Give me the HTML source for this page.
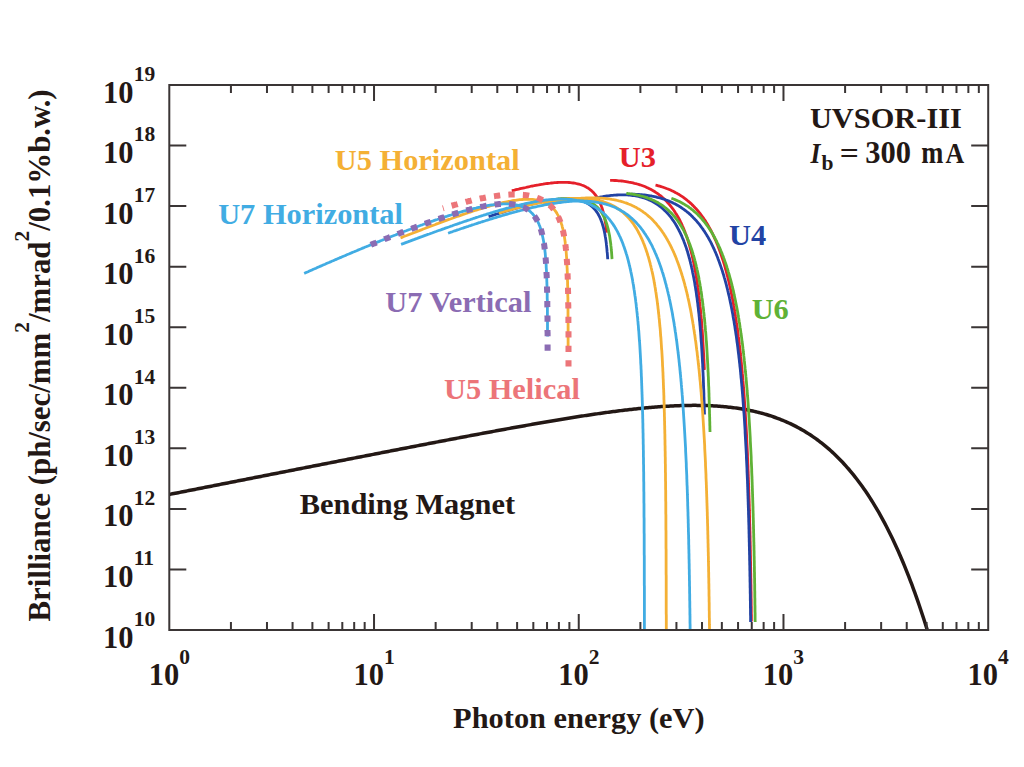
<!DOCTYPE html>
<html><head><meta charset="utf-8"><style>
html,body{margin:0;padding:0;background:#fff;width:1024px;height:767px;overflow:hidden;position:relative}
</style></head><body>
<svg width="1024" height="767" viewBox="0 0 1024 767" style="position:absolute;left:0;top:0">
<path d="M169.30,494.43 L170.80,494.14 L172.30,493.84 L173.80,493.54 L175.30,493.25 L176.80,492.95 L178.30,492.66 L179.80,492.36 L181.30,492.07 L182.80,491.77 L184.30,491.48 L185.80,491.18 L187.30,490.88 L188.80,490.59 L190.30,490.29 L191.80,490.00 L193.30,489.70 L194.80,489.41 L196.30,489.11 L197.80,488.82 L199.30,488.52 L200.80,488.22 L202.30,487.93 L203.80,487.63 L205.30,487.34 L206.80,487.04 L208.30,486.75 L209.80,486.45 L211.30,486.16 L212.80,485.86 L214.30,485.57 L215.80,485.27 L217.30,484.97 L218.80,484.68 L220.30,484.38 L221.80,484.09 L223.30,483.79 L224.80,483.50 L226.30,483.20 L227.80,482.91 L229.30,482.61 L230.80,482.32 L232.30,482.02 L233.80,481.73 L235.30,481.43 L236.80,481.13 L238.30,480.84 L239.80,480.54 L241.30,480.25 L242.80,479.95 L244.30,479.66 L245.80,479.36 L247.30,479.07 L248.80,478.77 L250.30,478.48 L251.80,478.18 L253.30,477.89 L254.80,477.59 L256.30,477.30 L257.80,477.00 L259.30,476.71 L260.80,476.41 L262.30,476.12 L263.80,475.82 L265.30,475.53 L266.80,475.23 L268.30,474.94 L269.80,474.64 L271.30,474.34 L272.80,474.05 L274.30,473.75 L275.80,473.46 L277.30,473.16 L278.80,472.87 L280.30,472.57 L281.80,472.28 L283.30,471.99 L284.80,471.69 L286.30,471.40 L287.80,471.10 L289.30,470.81 L290.80,470.51 L292.30,470.22 L293.80,469.92 L295.30,469.63 L296.80,469.33 L298.30,469.04 L299.80,468.74 L301.30,468.45 L302.80,468.15 L304.30,467.86 L305.80,467.56 L307.30,467.27 L308.80,466.97 L310.30,466.68 L311.80,466.39 L313.30,466.09 L314.80,465.80 L316.30,465.50 L317.80,465.21 L319.30,464.91 L320.80,464.62 L322.30,464.33 L323.80,464.03 L325.30,463.74 L326.80,463.44 L328.30,463.15 L329.80,462.85 L331.30,462.56 L332.80,462.27 L334.30,461.97 L335.80,461.68 L337.30,461.38 L338.80,461.09 L340.30,460.80 L341.80,460.50 L343.30,460.21 L344.80,459.92 L346.30,459.62 L347.80,459.33 L349.30,459.04 L350.80,458.74 L352.30,458.45 L353.80,458.15 L355.30,457.86 L356.80,457.57 L358.30,457.28 L359.80,456.98 L361.30,456.69 L362.80,456.40 L364.30,456.10 L365.80,455.81 L367.30,455.52 L368.80,455.22 L370.30,454.93 L371.80,454.64 L373.30,454.35 L374.80,454.05 L376.30,453.76 L377.80,453.47 L379.30,453.18 L380.80,452.88 L382.30,452.59 L383.80,452.30 L385.30,452.01 L386.80,451.72 L388.30,451.42 L389.80,451.13 L391.30,450.84 L392.80,450.55 L394.30,450.26 L395.80,449.97 L397.30,449.68 L398.80,449.38 L400.30,449.09 L401.80,448.80 L403.30,448.51 L404.80,448.22 L406.30,447.93 L407.80,447.64 L409.30,447.35 L410.80,447.06 L412.30,446.77 L413.80,446.48 L415.30,446.19 L416.80,445.90 L418.30,445.61 L419.80,445.32 L421.30,445.03 L422.80,444.74 L424.30,444.45 L425.80,444.16 L427.30,443.87 L428.80,443.59 L430.30,443.30 L431.80,443.01 L433.30,442.72 L434.80,442.43 L436.30,442.15 L437.80,441.86 L439.30,441.57 L440.80,441.28 L442.30,441.00 L443.80,440.71 L445.30,440.42 L446.80,440.14 L448.30,439.85 L449.80,439.56 L451.30,439.28 L452.80,438.99 L454.30,438.71 L455.80,438.42 L457.30,438.14 L458.80,437.85 L460.30,437.57 L461.80,437.28 L463.30,437.00 L464.80,436.72 L466.30,436.43 L467.80,436.15 L469.30,435.87 L470.80,435.58 L472.30,435.30 L473.80,435.02 L475.30,434.74 L476.80,434.46 L478.30,434.17 L479.80,433.89 L481.30,433.61 L482.80,433.33 L484.30,433.05 L485.80,432.77 L487.30,432.49 L488.80,432.22 L490.30,431.94 L491.80,431.66 L493.30,431.38 L494.80,431.10 L496.30,430.83 L497.80,430.55 L499.30,430.28 L500.80,430.00 L502.30,429.73 L503.80,429.45 L505.30,429.18 L506.80,428.90 L508.30,428.63 L509.80,428.36 L511.30,428.08 L512.80,427.81 L514.30,427.54 L515.80,427.27 L517.30,427.00 L518.80,426.73 L520.30,426.46 L521.80,426.19 L523.30,425.93 L524.80,425.66 L526.30,425.39 L527.80,425.13 L529.30,424.86 L530.80,424.60 L532.30,424.33 L533.80,424.07 L535.30,423.81 L536.80,423.54 L538.30,423.28 L539.80,423.02 L541.30,422.76 L542.80,422.50 L544.30,422.24 L545.80,421.99 L547.30,421.73 L548.80,421.48 L550.30,421.22 L551.80,420.97 L553.30,420.71 L554.80,420.46 L556.30,420.21 L557.80,419.96 L559.30,419.71 L560.80,419.46 L562.30,419.21 L563.80,418.97 L565.30,418.72 L566.80,418.48 L568.30,418.24 L569.80,417.99 L571.30,417.75 L572.80,417.51 L574.30,417.28 L575.80,417.04 L577.30,416.80 L578.80,416.57 L580.30,416.33 L581.80,416.10 L583.30,415.87 L584.80,415.64 L586.30,415.41 L587.80,415.19 L589.30,414.96 L590.80,414.74 L592.30,414.52 L593.80,414.30 L595.30,414.08 L596.80,413.86 L598.30,413.64 L599.80,413.43 L601.30,413.22 L602.80,413.01 L604.30,412.80 L605.80,412.59 L607.30,412.39 L608.80,412.18 L610.30,411.98 L611.80,411.78 L613.30,411.58 L614.80,411.39 L616.30,411.20 L617.80,411.00 L619.30,410.82 L620.80,410.63 L622.30,410.44 L623.80,410.26 L625.30,410.08 L626.80,409.91 L628.30,409.73 L629.80,409.56 L631.30,409.39 L632.80,409.22 L634.30,409.06 L635.80,408.89 L637.30,408.74 L638.80,408.58 L640.30,408.43 L641.80,408.27 L643.30,408.13 L644.80,407.98 L646.30,407.84 L647.80,407.70 L649.30,407.57 L650.80,407.44 L652.30,407.31 L653.80,407.18 L655.30,407.06 L656.80,406.94 L658.30,406.83 L659.80,406.72 L661.30,406.61 L662.80,406.51 L664.30,406.41 L665.80,406.31 L667.30,406.22 L668.80,406.13 L670.30,406.05 L671.80,405.97 L673.30,405.90 L674.80,405.83 L676.30,405.76 L677.80,405.70 L679.30,405.65 L680.80,405.60 L682.30,405.55 L683.80,405.51 L685.30,405.47 L686.80,405.44 L688.30,405.42 L689.80,405.39 L691.30,405.38 L692.80,405.37 L694.30,405.37 L695.80,405.37 L697.30,405.38 L698.80,405.39 L700.30,405.41 L701.80,405.44 L703.30,405.47 L704.80,405.51 L706.30,405.56 L707.80,405.61 L709.30,405.67 L710.80,405.74 L712.30,405.81 L713.80,405.89 L715.30,405.98 L716.80,406.08 L718.30,406.18 L719.80,406.29 L721.30,406.41 L722.80,406.54 L724.30,406.68 L725.80,406.82 L727.30,406.98 L728.80,407.14 L730.30,407.31 L731.80,407.49 L733.30,407.68 L734.80,407.88 L736.30,408.08 L737.80,408.30 L739.30,408.53 L740.80,408.77 L742.30,409.01 L743.80,409.27 L745.30,409.54 L746.80,409.82 L748.30,410.11 L749.80,410.42 L751.30,410.73 L752.80,411.06 L754.30,411.39 L755.80,411.74 L757.30,412.11 L758.80,412.48 L760.30,412.87 L761.80,413.27 L763.30,413.68 L764.80,414.11 L766.30,414.55 L767.80,415.00 L769.30,415.47 L770.80,415.96 L772.30,416.46 L773.80,416.97 L775.30,417.50 L776.80,418.04 L778.30,418.60 L779.80,419.18 L781.30,419.77 L782.80,420.38 L784.30,421.01 L785.80,421.65 L787.30,422.31 L788.80,422.99 L790.30,423.69 L791.80,424.41 L793.30,425.14 L794.80,425.90 L796.30,426.67 L797.80,427.47 L799.30,428.28 L800.80,429.12 L802.30,429.97 L803.80,430.85 L805.30,431.75 L806.80,432.67 L808.30,433.61 L809.80,434.58 L811.30,435.57 L812.80,436.59 L814.30,437.63 L815.80,438.69 L817.30,439.78 L818.80,440.89 L820.30,442.03 L821.80,443.20 L823.30,444.39 L824.80,445.61 L826.30,446.86 L827.80,448.13 L829.30,449.44 L830.80,450.77 L832.30,452.14 L833.80,453.53 L835.30,454.96 L836.80,456.42 L838.30,457.91 L839.80,459.43 L841.30,460.98 L842.80,462.57 L844.30,464.19 L845.80,465.85 L847.30,467.55 L848.80,469.27 L850.30,471.04 L851.80,472.84 L853.30,474.69 L854.80,476.57 L856.30,478.49 L857.80,480.45 L859.30,482.45 L860.80,484.49 L862.30,486.57 L863.80,488.70 L865.30,490.87 L866.80,493.08 L868.30,495.34 L869.80,497.65 L871.30,500.00 L872.80,502.40 L874.30,504.85 L875.80,507.35 L877.30,509.89 L878.80,512.49 L880.30,515.14 L881.80,517.85 L883.30,520.60 L884.80,523.41 L886.30,526.28 L887.80,529.20 L889.30,532.18 L890.80,535.22 L892.30,538.32 L893.80,541.48 L895.30,544.70 L896.80,547.98 L898.30,551.33 L899.80,554.74 L901.30,558.22 L902.80,561.76 L904.30,565.37 L905.80,569.05 L907.30,572.80 L908.80,576.63 L910.30,580.52 L911.80,584.49 L913.30,588.54 L914.80,592.66 L916.30,596.86 L917.80,601.14 L919.30,605.50 L920.80,609.94 L922.30,614.46 L923.80,619.07 L925.30,623.77 L926.80,628.55 L927.24,630.00" fill="none" stroke="#231815" stroke-width="3.5" stroke-linejoin="round"/>
<path d="M511.8,190.8 L513.2,190.4 L514.5,190.1 L515.9,189.7 L517.3,189.4 L518.7,189.1 L520.1,188.7 L521.5,188.4 L522.9,188.1 L524.3,187.8 L525.7,187.5 L527.2,187.1 L528.6,186.8 L530.0,186.5 L531.4,186.2 L532.9,186.0 L534.3,185.7 L535.7,185.4 L537.2,185.1 L538.6,184.9 L540.1,184.6 L541.5,184.4 L543.0,184.2 L544.4,183.9 L545.9,183.7 L547.3,183.5 L548.8,183.3 L550.2,183.2 L551.7,183.0 L553.1,182.9 L554.6,182.7 L556.0,182.6 L557.5,182.5 L558.9,182.4 L560.4,182.4 L561.8,182.3 L563.2,182.3 L564.6,182.3 L566.1,182.4 L567.5,182.4 L569.0,182.5 L570.4,182.6 L571.9,182.8 L573.3,183.0 L574.7,183.2 L576.1,183.5 L577.5,183.8 L578.9,184.1 L580.3,184.5 L581.6,185.0 L583.0,185.5 L584.3,186.1 L585.6,186.7 L586.8,187.4 L588.1,188.1 L589.2,188.9 L590.4,189.8 L591.5,190.7 L592.6,191.7 L593.6,192.7 L594.5,193.8 L595.5,195.0 L596.3,196.1 L597.1,197.3 L597.9,198.6 L598.6,199.8 L599.2,201.1 L599.9,202.4 L600.4,203.7 L601.0,205.1 L601.5,206.5 L602.0,207.8 L602.4,209.2 L602.8,210.6 L603.2,212.0 L603.6,213.4 L603.9,214.8 L604.3,216.4 L604.6,217.8 L604.8,219.3 L605.1,220.7 L605.3,222.1 L605.6,223.5 L605.8,224.9 L606.0,226.3 L606.1,227.7 L606.3,229.1 L606.5,230.5 L606.6,231.9 L606.7,232.6" fill="none" stroke="#e5202a" stroke-width="2.8" stroke-linejoin="round" />
<path d="M610.1,180.3 L611.5,180.3 L612.9,180.4 L614.4,180.5 L615.8,180.5 L617.3,180.6 L618.7,180.8 L620.2,180.9 L621.6,181.0 L623.0,181.2 L624.4,181.4 L625.9,181.6 L627.3,181.8 L628.7,182.1 L630.1,182.3 L631.6,182.6 L633.0,182.9 L634.4,183.3 L635.8,183.6 L637.2,184.0 L638.6,184.4 L639.9,184.8 L641.3,185.3 L642.7,185.8 L644.1,186.3 L645.4,186.8 L646.7,187.4 L648.0,188.0 L649.4,188.7 L650.6,189.3 L651.9,190.0 L653.2,190.7 L654.5,191.5 L655.7,192.3 L656.9,193.1 L658.1,193.9 L659.2,194.8 L660.4,195.7 L661.5,196.6 L662.6,197.6 L663.7,198.5 L664.8,199.5 L665.8,200.6 L666.8,201.6 L667.8,202.7 L668.8,203.8 L669.7,204.9 L670.6,206.0 L671.5,207.2 L672.4,208.3 L673.3,209.5 L674.1,210.7 L674.9,211.9 L675.7,213.2 L676.5,214.4 L677.3,215.7 L678.0,216.9 L678.7,218.2 L679.4,219.5 L680.1,220.9 L680.7,222.2 L681.4,223.5 L682.0,224.9 L682.6,226.3 L683.2,227.6 L683.7,228.9 L684.3,230.3 L684.9,231.7 L685.4,233.2 L685.9,234.5 L686.4,235.9 L686.9,237.3 L687.4,238.8 L687.9,240.3 L688.3,241.6 L688.7,243.0 L689.2,244.5 L689.6,245.9 L690.0,247.4 L690.4,248.9 L690.8,250.3 L691.2,251.7 L691.5,253.2 L691.9,254.6 L692.2,256.1 L692.6,257.6 L692.9,259.2 L693.3,260.7 L693.6,262.2 L693.9,263.6 L694.2,265.0 L694.5,266.5 L694.7,268.0 L695.0,269.6 L695.3,271.1 L695.6,272.7 L695.9,274.3 L696.1,275.8 L696.4,277.2 L696.6,278.6 L696.8,280.1 L697.0,281.6 L697.3,283.1 L697.5,284.7 L697.7,286.3 L697.9,287.9 L698.2,289.5 L698.4,291.2 L698.6,292.8 L698.8,294.3 L698.9,295.7 L699.1,297.2 L699.3,298.6 L699.5,300.1 L699.6,301.7 L699.8,303.2 L700.0,304.8 L700.1,306.4 L700.3,308.0 L700.5,309.6 L700.6,311.3 L700.8,313.0 L700.9,314.7 L701.1,316.4 L701.2,317.8 L701.3,319.3 L701.5,320.7 L701.6,322.2 L701.7,323.7 L701.8,325.2 L701.9,326.7 L702.0,328.2 L702.2,329.8 L702.3,331.4 L702.4,333.0 L702.5,334.6 L702.6,336.2 L702.7,337.9 L702.8,339.6 L702.9,341.3 L703.0,343.0 L703.1,344.8 L703.2,346.6 L703.3,348.4 L703.4,350.2 L703.5,352.1 L703.6,353.5 L703.7,354.9 L703.8,356.3 L703.8,357.7 L703.9,359.2 L704.0,360.6 L704.0,362.0 L704.1,363.4 L704.2,364.8 L704.2,366.3 L704.3,367.7 L704.3,369.1 L704.4,370.0" fill="none" stroke="#e5202a" stroke-width="2.8" stroke-linejoin="round" />
<path d="M655.5,185.1 L656.9,185.4 L658.3,185.8 L659.7,186.2 L661.0,186.6 L662.4,187.0 L663.8,187.5 L665.2,188.0 L666.5,188.5 L667.9,189.0 L669.2,189.5 L670.5,190.1 L671.8,190.7 L673.1,191.3 L674.5,192.0 L675.7,192.7 L677.0,193.3 L678.2,194.1 L679.5,194.8 L680.7,195.6 L681.9,196.4 L683.1,197.2 L684.3,198.1 L685.4,198.9 L686.6,199.8 L687.7,200.8 L688.8,201.7 L689.9,202.6 L691.0,203.6 L692.0,204.6 L693.1,205.6 L694.1,206.7 L695.1,207.8 L696.1,208.8 L697.1,209.9 L698.0,211.0 L698.9,212.1 L699.8,213.2 L700.7,214.4 L701.6,215.6 L702.5,216.8 L703.3,217.9 L704.2,219.2 L705.0,220.4 L705.8,221.6 L706.5,222.9 L707.3,224.1 L708.1,225.4 L708.8,226.7 L709.5,227.9 L710.2,229.2 L710.9,230.5 L711.6,231.9 L712.3,233.2 L712.9,234.5 L713.5,235.8 L714.2,237.2 L714.8,238.6 L715.4,239.9 L716.0,241.2 L716.5,242.5 L717.1,243.9 L717.7,245.3 L718.2,246.8 L718.8,248.2 L719.3,249.6 L719.8,250.9 L720.3,252.3 L720.8,253.8 L721.3,255.2 L721.8,256.7 L722.3,258.2 L722.7,259.5 L723.2,260.9 L723.6,262.3 L724.1,263.8 L724.5,265.2 L724.9,266.7 L725.3,268.2 L725.8,269.7 L726.2,271.3 L726.6,272.7 L726.9,274.1 L727.3,275.5 L727.7,276.9 L728.0,278.4 L728.4,279.9 L728.8,281.4 L729.1,282.9 L729.5,284.5 L729.8,286.1 L730.2,287.7 L730.5,289.1 L730.8,290.5 L731.1,291.9 L731.4,293.4 L731.7,294.8 L732.0,296.3 L732.3,297.8 L732.6,299.3 L732.9,300.9 L733.2,302.5 L733.5,304.0 L733.7,305.7 L734.0,307.3 L734.3,308.9 L734.6,310.6 L734.8,312.0 L735.1,313.4 L735.3,314.9 L735.5,316.3 L735.8,317.8 L736.0,319.3 L736.2,320.8 L736.4,322.3 L736.7,323.9 L736.9,325.5 L737.1,327.0 L737.3,328.6 L737.6,330.2 L737.8,331.9 L738.0,333.5 L738.2,335.2 L738.4,336.9 L738.7,338.6 L738.9,340.3 L739.1,342.1 L739.3,343.5 L739.4,344.9 L739.6,346.4 L739.8,347.8 L739.9,349.3 L740.1,350.8 L740.3,352.3 L740.4,353.8 L740.6,355.3 L740.7,356.9 L740.9,358.4 L741.1,360.0 L741.2,361.6 L741.4,363.2 L741.5,364.8 L741.7,366.5 L741.9,368.1 L742.0,369.8 L742.2,371.5 L742.3,373.2 L742.5,374.9 L742.6,376.6 L742.8,378.4 L742.9,380.2 L743.1,382.0 L743.2,383.8 L743.4,385.6 L743.5,387.5 L743.7,389.3 L743.8,390.7 L743.9,392.2 L744.0,393.6 L744.1,395.1 L744.2,396.5 L744.3,398.0 L744.4,399.5 L744.5,401.0 L744.6,402.5 L744.7,404.0 L744.8,405.5 L744.9,407.1 L745.0,408.6 L745.1,410.2 L745.2,411.8 L745.3,413.4 L745.4,415.0 L745.5,416.6 L745.6,418.3 L745.7,419.9 L745.8,421.6 L745.9,423.3 L746.0,425.0 L746.1,426.7 L746.2,428.4 L746.3,430.1 L746.4,431.9 L746.5,433.7 L746.6,435.5 L746.7,437.3 L746.7,439.1 L746.8,440.9 L746.9,442.8 L747.0,444.6 L747.1,446.5 L747.2,448.4 L747.3,450.4 L747.4,452.3 L747.5,454.2 L747.5,456.2 L747.6,458.2 L747.7,460.2 L747.8,462.3 L747.9,464.3 L748.0,466.4 L748.0,468.5 L748.1,470.6 L748.2,472.0 L748.2,473.5 L748.3,474.9 L748.3,476.4 L748.4,477.8 L748.4,479.3 L748.5,480.8 L748.5,482.3 L748.6,483.8 L748.6,485.3 L748.7,486.8 L748.7,488.3 L748.8,489.9 L748.8,491.4 L748.9,493.0 L748.9,494.6 L749.0,496.1 L749.0,497.6 L749.1,499.0 L749.1,500.4 L749.2,501.9 L749.2,503.3 L749.3,504.7 L749.3,506.2 L749.3,507.6 L749.4,509.0 L749.4,510.4 L749.5,511.9 L749.5,513.3 L749.5,514.7 L749.6,516.2 L749.6,517.6 L749.6,519.0 L749.7,520.5 L749.7,521.9 L749.7,523.3 L749.8,524.7 L749.8,526.2 L749.9,527.6 L749.9,529.0 L749.9,530.5 L750.0,531.9 L750.0,533.3 L750.0,534.8 L750.1,536.2 L750.1,537.6 L750.1,539.1 L750.1,540.5 L750.2,541.9 L750.2,543.4 L750.2,544.8 L750.3,546.2 L750.3,547.7 L750.3,549.1 L750.4,550.6 L750.4,552.0 L750.4,553.4 L750.4,554.8 L750.5,556.3 L750.5,557.7 L750.5,559.1 L750.5,560.6 L750.6,562.0 L750.6,563.5 L750.6,564.9 L750.6,566.3 L750.7,567.7 L750.7,569.2 L750.7,570.6 L750.7,572.0 L750.8,573.5 L750.8,574.9 L750.8,576.3 L750.8,577.8 L750.9,579.2 L750.9,580.7 L750.9,582.1 L750.9,583.5 L751.0,585.0 L751.0,586.4 L751.0,587.8 L751.0,589.3 L751.0,590.7 L751.1,592.2 L751.1,593.6 L751.1,595.0 L751.1,596.4 L751.1,597.9 L751.2,599.3 L751.2,600.8 L751.2,602.2 L751.2,603.6 L751.2,605.1 L751.3,606.5 L751.3,607.9 L751.3,609.4 L751.3,610.8 L751.3,612.3 L751.3,613.7 L751.4,615.1 L751.4,616.6 L751.4,618.0 L751.4,619.5 L751.4,620.9 L751.4,621.5" fill="none" stroke="#e5202a" stroke-width="2.8" stroke-linejoin="round" />
<path d="M488.6,216.6 L490.0,216.2 L491.4,215.8 L492.7,215.3 L494.1,214.9 L495.5,214.4 L496.9,214.0 L498.2,213.6 L499.6,213.1 L501.0,212.7 L502.4,212.3 L503.8,211.9 L505.1,211.4 L506.5,211.0 L508.0,210.6 L509.3,210.2 L510.7,209.8 L512.0,209.4 L513.4,209.0 L514.8,208.6 L516.2,208.2 L517.6,207.8 L519.0,207.4 L520.4,207.0 L521.8,206.6 L523.2,206.3 L524.6,205.9 L526.0,205.5 L527.4,205.1 L528.8,204.8 L530.3,204.4 L531.7,204.1 L533.1,203.7 L534.5,203.4 L535.9,203.1 L537.3,202.8 L538.7,202.5 L540.1,202.2 L541.4,201.9 L542.8,201.6 L544.2,201.3 L545.6,201.1 L547.1,200.8 L548.5,200.6 L550.0,200.3 L551.4,200.1 L552.9,199.9 L554.3,199.7 L555.8,199.5 L557.2,199.4 L558.7,199.2 L560.1,199.1 L561.5,199.0 L563.0,198.9 L564.4,198.9 L565.8,198.9 L567.3,198.9 L568.7,198.9 L570.2,198.9 L571.6,199.0 L573.1,199.2 L574.5,199.3 L575.9,199.5 L577.3,199.8 L578.7,200.1 L580.1,200.4 L581.5,200.8 L582.9,201.3 L584.3,201.8 L585.6,202.4 L586.9,203.1 L588.2,203.8 L589.4,204.6 L590.5,205.4 L591.7,206.3 L592.7,207.3 L593.7,208.3 L594.7,209.4 L595.6,210.4 L596.5,211.6 L597.3,212.8 L598.1,214.0 L598.8,215.4 L599.5,216.7 L600.1,218.0 L600.7,219.3 L601.2,220.7 L601.7,222.0 L602.2,223.4 L602.6,224.8 L603.0,226.2 L603.4,227.6 L603.8,229.0 L604.1,230.5 L604.4,231.8 L604.7,233.3 L605.0,234.8 L605.2,236.2 L605.5,237.6 L605.7,239.0 L605.9,240.4 L606.1,241.8 L606.3,243.2 L606.4,244.7 L606.6,246.1 L606.7,247.5 L606.9,248.9 L607.0,250.3 L607.1,251.7 L607.3,253.1 L607.4,254.5 L607.5,256.0 L607.6,257.4 L607.7,258.8 L607.7,259.2" fill="none" stroke="#2243a4" stroke-width="2.8" stroke-linejoin="round" />
<path d="M585.8,200.6 L587.2,200.2 L588.6,199.9 L590.0,199.5 L591.4,199.1 L592.8,198.8 L594.2,198.4 L595.6,198.1 L597.0,197.8 L598.5,197.5 L599.9,197.2 L601.3,196.9 L602.7,196.7 L604.1,196.4 L605.5,196.2 L606.9,196.0 L608.3,195.8 L609.8,195.6 L611.2,195.4 L612.6,195.3 L614.1,195.2 L615.5,195.1 L617.0,195.0 L618.5,194.9 L619.9,194.8 L621.4,194.8 L622.8,194.8 L624.2,194.8 L625.6,194.9 L627.1,194.9 L628.5,195.0 L629.9,195.1 L631.4,195.3 L632.8,195.5 L634.3,195.7 L635.7,195.9 L637.1,196.2 L638.5,196.5 L639.9,196.8 L641.3,197.2 L642.7,197.6 L644.1,198.0 L645.5,198.5 L646.8,199.0 L648.1,199.5 L649.5,200.1 L650.8,200.7 L652.1,201.3 L653.3,202.0 L654.6,202.7 L655.9,203.5 L657.1,204.3 L658.3,205.1 L659.4,206.0 L660.6,206.8 L661.7,207.7 L662.8,208.7 L663.9,209.7 L664.9,210.7 L666.0,211.7 L667.0,212.7 L668.0,213.8 L668.9,214.9 L669.9,216.1 L670.8,217.2 L671.7,218.4 L672.5,219.6 L673.4,220.8 L674.2,222.0 L675.0,223.2 L675.8,224.5 L676.5,225.8 L677.2,227.0 L677.9,228.3 L678.6,229.6 L679.3,231.0 L680.0,232.3 L680.6,233.6 L681.2,235.0 L681.9,236.4 L682.4,237.7 L683.0,239.1 L683.6,240.5 L684.1,241.9 L684.6,243.2 L685.1,244.6 L685.6,246.0 L686.1,247.4 L686.6,248.9 L687.0,250.3 L687.5,251.6 L687.9,253.1 L688.3,254.5 L688.7,256.0 L689.1,257.5 L689.6,259.0 L689.9,260.4 L690.3,261.8 L690.6,263.3 L691.0,264.7 L691.4,266.3 L691.7,267.8 L692.1,269.4 L692.4,270.7 L692.6,272.2 L692.9,273.6 L693.2,275.1 L693.5,276.6 L693.8,278.1 L694.1,279.7 L694.4,281.2 L694.7,282.8 L694.9,284.2 L695.1,285.7 L695.4,287.1 L695.6,288.6 L695.8,290.1 L696.1,291.6 L696.3,293.1 L696.5,294.7 L696.7,296.3 L697.0,297.9 L697.2,299.5 L697.4,301.2 L697.6,302.6 L697.8,304.0 L697.9,305.5 L698.1,306.9 L698.3,308.4 L698.4,309.9 L698.6,311.5 L698.8,313.0 L699.0,314.6 L699.1,316.2 L699.3,317.8 L699.4,319.5 L699.6,321.1 L699.8,322.8 L699.9,324.6 L700.1,326.3 L700.2,327.7 L700.3,329.2 L700.4,330.6 L700.6,332.1 L700.7,333.6 L700.8,335.1 L700.9,336.6 L701.0,338.1 L701.1,339.7 L701.2,341.3 L701.4,342.9 L701.5,344.5 L701.6,346.2 L701.7,347.9 L701.8,349.6 L701.9,351.3 L702.0,353.0 L702.1,354.8 L702.2,356.6 L702.3,358.4 L702.4,360.2 L702.5,362.1 L702.6,363.5 L702.7,364.9 L702.7,366.4 L702.8,367.8 L702.9,369.2 L702.9,370.6 L703.0,372.1 L703.1,373.5 L703.1,374.9 L703.2,376.3 L703.3,377.7 L703.3,379.2 L703.4,380.6 L703.4,382.0 L703.5,383.4 L703.5,384.9 L703.6,386.3 L703.6,387.7 L703.7,389.1 L703.8,390.6 L703.8,392.0 L703.9,393.4 L703.9,394.8 L703.9,396.3 L704.0,397.7 L704.0,399.1 L704.1,400.5 L704.1,402.0 L704.2,403.4 L704.2,404.8 L704.3,406.3 L704.3,407.7 L704.3,409.1 L704.4,410.5 L704.4,412.0 L704.5,413.4 L704.5,414.4" fill="none" stroke="#2243a4" stroke-width="2.8" stroke-linejoin="round" />
<path d="M631.5,194.2 L633.0,194.2 L634.4,194.2 L635.9,194.3 L637.3,194.4 L638.8,194.5 L640.2,194.6 L641.6,194.7 L643.0,194.8 L644.5,195.0 L645.9,195.2 L647.4,195.4 L648.8,195.6 L650.2,195.8 L651.6,196.0 L653.0,196.3 L654.4,196.6 L655.9,196.9 L657.2,197.3 L658.6,197.6 L660.0,198.0 L661.4,198.4 L662.8,198.8 L664.2,199.3 L665.5,199.8 L666.9,200.3 L668.2,200.8 L669.6,201.4 L670.9,201.9 L672.2,202.5 L673.5,203.2 L674.8,203.8 L676.1,204.5 L677.4,205.2 L678.6,205.9 L679.9,206.7 L681.1,207.5 L682.3,208.3 L683.5,209.1 L684.6,210.0 L685.8,210.8 L686.9,211.8 L688.1,212.7 L689.2,213.6 L690.3,214.6 L691.3,215.6 L692.4,216.6 L693.4,217.7 L694.4,218.7 L695.4,219.8 L696.4,220.8 L697.3,222.0 L698.3,223.1 L699.2,224.2 L700.1,225.4 L701.0,226.6 L701.8,227.7 L702.7,228.9 L703.5,230.1 L704.4,231.3 L705.1,232.5 L705.9,233.8 L706.7,235.0 L707.4,236.3 L708.2,237.5 L708.9,238.8 L709.6,240.1 L710.3,241.4 L711.0,242.7 L711.6,244.0 L712.3,245.3 L712.9,246.6 L713.5,248.0 L714.2,249.4 L714.8,250.8 L715.4,252.1 L716.0,253.5 L716.5,254.9 L717.1,256.3 L717.7,257.7 L718.2,259.2 L718.7,260.5 L719.2,261.9 L719.7,263.3 L720.2,264.7 L720.7,266.1 L721.2,267.6 L721.7,269.1 L722.2,270.5 L722.6,271.9 L723.0,273.3 L723.5,274.7 L723.9,276.2 L724.3,277.6 L724.8,279.1 L725.2,280.7 L725.6,282.2 L726.0,283.6 L726.4,285.0 L726.7,286.4 L727.1,287.9 L727.5,289.4 L727.8,290.8 L728.2,292.4 L728.5,293.9 L728.9,295.5 L729.3,297.0 L729.6,298.6 L729.9,300.0 L730.2,301.5 L730.5,302.9 L730.8,304.3 L731.1,305.8 L731.4,307.3 L731.7,308.8 L732.0,310.3 L732.3,311.9 L732.6,313.5 L732.9,315.0 L733.1,316.7 L733.4,318.3 L733.7,319.9 L734.0,321.3 L734.2,322.7 L734.4,324.2 L734.7,325.6 L734.9,327.1 L735.1,328.6 L735.3,330.0 L735.6,331.6 L735.8,333.1 L736.0,334.6 L736.3,336.2 L736.5,337.8 L736.7,339.4 L736.9,341.0 L737.1,342.6 L737.4,344.3 L737.6,346.0 L737.8,347.6 L738.0,349.4 L738.2,351.1 L738.4,352.8 L738.6,354.3 L738.8,355.7 L738.9,357.1 L739.1,358.6 L739.3,360.1 L739.4,361.6 L739.6,363.1 L739.8,364.6 L739.9,366.1 L740.1,367.7 L740.3,369.2 L740.4,370.8 L740.6,372.4 L740.7,374.0 L740.9,375.6 L741.0,377.3 L741.2,378.9 L741.4,380.6 L741.5,382.3 L741.7,384.0 L741.8,385.7 L742.0,387.4 L742.1,389.2 L742.3,391.0 L742.4,392.8 L742.6,394.6 L742.7,396.4 L742.9,398.3 L743.0,400.2 L743.1,401.6 L743.2,403.0 L743.3,404.4 L743.4,405.9 L743.5,407.4 L743.6,408.8 L743.7,410.3 L743.8,411.8 L744.0,413.3 L744.1,414.8 L744.2,416.4 L744.3,417.9 L744.4,419.5 L744.5,421.1 L744.6,422.7 L744.7,424.3 L744.8,425.9 L744.9,427.5 L745.0,429.1 L745.1,430.8 L745.1,432.5 L745.2,434.2 L745.3,435.9 L745.4,437.6 L745.5,439.3 L745.6,441.0 L745.7,442.8 L745.8,444.6 L745.9,446.4 L746.0,448.2 L746.1,450.0 L746.2,451.8 L746.3,453.7 L746.4,455.6 L746.4,457.5 L746.5,459.4 L746.6,461.3 L746.7,463.2 L746.8,465.2 L746.9,467.2 L747.0,469.2 L747.0,471.2 L747.1,473.3 L747.2,475.3 L747.3,477.4 L747.4,479.5 L747.5,481.6 L747.5,483.0 L747.6,484.5 L747.6,485.9 L747.7,487.4 L747.7,488.8 L747.8,490.3 L747.8,491.8 L747.9,493.3 L747.9,494.8 L748.0,496.3 L748.0,497.8 L748.1,499.4 L748.1,500.9 L748.2,502.5 L748.2,504.1 L748.3,505.6 L748.3,507.1 L748.4,508.5 L748.4,509.9 L748.5,511.3 L748.5,512.8 L748.5,514.2 L748.6,515.6 L748.6,517.1 L748.7,518.5 L748.7,519.9 L748.7,521.3 L748.8,522.8 L748.8,524.2 L748.9,525.7 L748.9,527.1 L748.9,528.5 L749.0,529.9 L749.0,531.4 L749.0,532.8 L749.1,534.3 L749.1,535.7 L749.1,537.1 L749.2,538.5 L749.2,540.0 L749.2,541.4 L749.3,542.8 L749.3,544.3 L749.3,545.7 L749.4,547.1 L749.4,548.6 L749.4,550.0 L749.5,551.4 L749.5,552.9 L749.5,554.3 L749.6,555.7 L749.6,557.2 L749.6,558.6 L749.6,560.0 L749.7,561.5 L749.7,562.9 L749.7,564.3 L749.8,565.8 L749.8,567.2 L749.8,568.6 L749.8,570.1 L749.9,571.5 L749.9,572.9 L749.9,574.4 L749.9,575.8 L750.0,577.2 L750.0,578.7 L750.0,580.1 L750.0,581.6 L750.1,583.0 L750.1,584.4 L750.1,585.9 L750.1,587.3 L750.2,588.7 L750.2,590.2 L750.2,591.6 L750.2,593.0 L750.3,594.5 L750.3,595.9 L750.3,597.4 L750.3,598.8 L750.3,600.2 L750.4,601.7 L750.4,603.1 L750.4,604.6 L750.4,606.0 L750.4,607.4 L750.5,608.9 L750.5,610.3 L750.5,611.7 L750.5,613.2 L750.5,614.6 L750.6,616.1 L750.6,617.5 L750.6,618.9 L750.6,620.4 L750.6,621.9 L750.6,621.9" fill="none" stroke="#2243a4" stroke-width="2.8" stroke-linejoin="round" />
<path d="M528.4,204.9 L529.8,204.6 L531.2,204.2 L532.6,203.9 L534.1,203.5 L535.5,203.2 L536.9,202.9 L538.4,202.5 L539.8,202.2 L541.2,201.9 L542.7,201.6 L544.1,201.3 L545.6,201.0 L547.0,200.8 L548.5,200.5 L549.9,200.3 L551.4,200.0 L552.8,199.8 L554.3,199.6 L555.7,199.4 L557.2,199.2 L558.6,199.0 L560.1,198.8 L561.5,198.7 L563.0,198.6 L564.4,198.5 L565.8,198.4 L567.3,198.3 L568.7,198.3 L570.1,198.3 L571.6,198.3 L573.0,198.3 L574.5,198.4 L575.9,198.5 L577.4,198.7 L578.8,198.9 L580.2,199.1 L581.6,199.3 L583.0,199.6 L584.4,200.0 L585.8,200.4 L587.2,200.9 L588.6,201.5 L589.9,202.0 L591.1,202.7 L592.4,203.4 L593.6,204.2 L594.8,205.0 L595.9,206.0 L596.9,206.9 L598.0,207.9 L599.0,209.0 L599.9,210.1 L600.7,211.3 L601.6,212.5 L602.3,213.7 L603.0,215.0 L603.7,216.3 L604.3,217.6 L604.9,218.9 L605.5,220.3 L606.0,221.7 L606.5,223.1 L606.9,224.5 L607.3,225.9 L607.7,227.3 L608.1,228.7 L608.4,230.1 L608.7,231.5 L609.0,233.0 L609.3,234.5 L609.6,235.9 L609.8,237.3 L610.0,238.7 L610.2,240.1 L610.4,241.5 L610.6,242.9 L610.8,244.3 L610.9,245.7 L611.1,247.1 L611.2,248.5 L611.3,250.0 L611.5,251.4 L611.6,252.8 L611.7,254.2 L611.8,255.6 L611.9,257.0 L612.0,258.4 L612.1,259.2" fill="none" stroke="#5fb236" stroke-width="2.8" stroke-linejoin="round" />
<path d="M626.3,193.3 L627.7,193.5 L629.1,193.6 L630.5,193.8 L632.0,194.0 L633.4,194.3 L634.8,194.5 L636.3,194.8 L637.7,195.1 L639.1,195.4 L640.5,195.8 L641.9,196.1 L643.2,196.5 L644.6,196.9 L646.0,197.4 L647.4,197.9 L648.7,198.3 L650.1,198.9 L651.4,199.4 L652.7,200.0 L654.1,200.6 L655.3,201.3 L656.6,201.9 L657.9,202.6 L659.1,203.4 L660.3,204.1 L661.5,204.9 L662.7,205.7 L663.9,206.6 L665.1,207.5 L666.2,208.4 L667.3,209.3 L668.4,210.3 L669.4,211.3 L670.5,212.3 L671.5,213.3 L672.5,214.4 L673.5,215.5 L674.4,216.5 L675.3,217.6 L676.2,218.8 L677.1,220.0 L678.0,221.2 L678.8,222.4 L679.6,223.6 L680.4,224.9 L681.2,226.1 L681.9,227.4 L682.7,228.6 L683.4,229.9 L684.1,231.2 L684.7,232.6 L685.4,233.9 L686.0,235.2 L686.6,236.6 L687.3,238.0 L687.8,239.3 L688.4,240.7 L688.9,242.1 L689.5,243.5 L690.0,244.8 L690.5,246.2 L691.0,247.6 L691.5,249.0 L692.0,250.5 L692.4,251.8 L692.8,253.2 L693.2,254.6 L693.7,256.0 L694.1,257.5 L694.5,259.0 L694.9,260.6 L695.3,261.9 L695.6,263.4 L696.0,264.8 L696.3,266.3 L696.7,267.8 L697.0,269.3 L697.4,270.9 L697.7,272.3 L698.0,273.7 L698.3,275.2 L698.6,276.6 L698.9,278.1 L699.1,279.7 L699.4,281.2 L699.7,282.8 L700.0,284.4 L700.2,285.8 L700.5,287.2 L700.7,288.7 L700.9,290.2 L701.2,291.7 L701.4,293.2 L701.6,294.7 L701.8,296.3 L702.0,297.9 L702.3,299.5 L702.5,301.2 L702.7,302.8 L702.9,304.3 L703.0,305.7 L703.2,307.2 L703.4,308.6 L703.6,310.1 L703.7,311.7 L703.9,313.2 L704.1,314.8 L704.2,316.4 L704.4,318.0 L704.6,319.6 L704.7,321.3 L704.9,323.0 L705.0,324.7 L705.2,326.4 L705.3,327.8 L705.4,329.3 L705.5,330.7 L705.7,332.2 L705.8,333.7 L705.9,335.2 L706.0,336.7 L706.1,338.2 L706.2,339.8 L706.4,341.4 L706.5,343.0 L706.6,344.6 L706.7,346.2 L706.8,347.9 L706.9,349.6 L707.0,351.3 L707.1,353.1 L707.2,354.8 L707.3,356.6 L707.4,358.4 L707.5,360.3 L707.6,362.1 L707.7,363.6 L707.8,365.0 L707.8,366.4 L707.9,367.8 L708.0,369.2 L708.0,370.7 L708.1,372.1 L708.2,373.5 L708.2,374.9 L708.3,376.4 L708.4,377.8 L708.4,379.2 L708.5,380.6 L708.5,382.0 L708.6,383.5 L708.6,384.9 L708.7,386.3 L708.8,387.7 L708.8,389.2 L708.9,390.6 L708.9,392.0 L709.0,393.5 L709.0,394.9 L709.0,396.3 L709.1,397.7 L709.1,399.1 L709.2,400.6 L709.2,402.0 L709.3,403.4 L709.3,404.8 L709.4,406.3 L709.4,407.7 L709.4,409.1 L709.5,410.6 L709.5,412.0 L709.5,413.4 L709.6,414.8 L709.6,416.3 L709.7,417.7 L709.7,419.1 L709.7,420.5 L709.8,422.0 L709.8,423.4 L709.8,424.8 L709.9,426.3 L709.9,427.7 L709.9,429.1 L710.0,430.6 L710.0,432.0 L710.0,432.0" fill="none" stroke="#5fb236" stroke-width="2.8" stroke-linejoin="round" />
<path d="M671.4,198.3 L672.8,198.8 L674.1,199.3 L675.5,199.9 L676.8,200.4 L678.1,201.0 L679.4,201.6 L680.7,202.3 L682.0,203.0 L683.3,203.7 L684.5,204.4 L685.8,205.2 L687.0,205.9 L688.2,206.7 L689.4,207.6 L690.6,208.4 L691.7,209.3 L692.9,210.2 L693.9,211.1 L695.0,212.1 L696.1,213.0 L697.2,214.1 L698.2,215.1 L699.3,216.1 L700.3,217.2 L701.3,218.2 L702.2,219.3 L703.2,220.5 L704.1,221.6 L705.0,222.7 L705.9,223.9 L706.8,225.1 L707.6,226.2 L708.5,227.4 L709.3,228.7 L710.1,229.9 L710.9,231.1 L711.7,232.4 L712.5,233.7 L713.2,235.0 L713.9,236.3 L714.6,237.5 L715.3,238.9 L716.0,240.2 L716.7,241.5 L717.3,242.8 L718.0,244.1 L718.6,245.5 L719.2,246.8 L719.8,248.1 L720.4,249.5 L720.9,250.8 L721.5,252.2 L722.1,253.6 L722.6,255.0 L723.2,256.5 L723.7,257.9 L724.2,259.2 L724.7,260.6 L725.2,262.1 L725.7,263.5 L726.2,265.0 L726.7,266.5 L727.1,267.9 L727.6,269.3 L728.0,270.7 L728.4,272.1 L728.9,273.6 L729.3,275.1 L729.7,276.6 L730.1,278.1 L730.5,279.5 L730.9,280.9 L731.3,282.3 L731.6,283.7 L732.0,285.2 L732.3,286.7 L732.7,288.2 L733.1,289.7 L733.4,291.2 L733.8,292.8 L734.1,294.4 L734.4,295.8 L734.7,297.2 L735.0,298.6 L735.3,300.1 L735.6,301.5 L735.9,303.0 L736.2,304.5 L736.5,306.0 L736.8,307.6 L737.1,309.1 L737.4,310.7 L737.7,312.3 L738.0,313.9 L738.2,315.6 L738.5,317.2 L738.8,318.6 L739.0,320.1 L739.2,321.5 L739.5,323.0 L739.7,324.4 L739.9,325.9 L740.1,327.4 L740.4,329.0 L740.6,330.5 L740.8,332.1 L741.0,333.6 L741.3,335.2 L741.5,336.8 L741.7,338.5 L741.9,340.1 L742.1,341.8 L742.4,343.5 L742.6,345.2 L742.8,346.9 L743.0,348.7 L743.2,350.1 L743.3,351.5 L743.5,353.0 L743.7,354.4 L743.8,355.9 L744.0,357.4 L744.2,358.9 L744.3,360.4 L744.5,361.9 L744.6,363.5 L744.8,365.1 L745.0,366.6 L745.1,368.2 L745.3,369.8 L745.4,371.5 L745.6,373.1 L745.8,374.8 L745.9,376.4 L746.1,378.1 L746.2,379.8 L746.4,381.6 L746.5,383.3 L746.7,385.1 L746.8,386.8 L747.0,388.6 L747.1,390.5 L747.3,392.3 L747.4,394.1 L747.5,396.0 L747.7,397.4 L747.8,398.9 L747.9,400.3 L748.0,401.8 L748.1,403.2 L748.2,404.7 L748.3,406.2 L748.4,407.7 L748.5,409.2 L748.6,410.7 L748.7,412.3 L748.8,413.8 L748.9,415.4 L749.0,417.0 L749.1,418.6 L749.2,420.2 L749.3,421.8 L749.4,423.4 L749.5,425.1 L749.6,426.7 L749.7,428.4 L749.8,430.1 L749.9,431.8 L750.0,433.5 L750.1,435.3 L750.2,437.0 L750.3,438.8 L750.3,440.6 L750.4,442.4 L750.5,444.2 L750.6,446.0 L750.7,447.9 L750.8,449.7 L750.9,451.6 L751.0,453.5 L751.1,455.4 L751.2,457.4 L751.2,459.3 L751.3,461.3 L751.4,463.3 L751.5,465.3 L751.6,467.3 L751.7,469.4 L751.7,471.4 L751.8,473.5 L751.9,475.6 L752.0,477.1 L752.0,478.5 L752.1,479.9 L752.1,481.4 L752.2,482.8 L752.2,484.3 L752.3,485.8 L752.3,487.3 L752.4,488.8 L752.4,490.3 L752.5,491.8 L752.5,493.3 L752.6,494.8 L752.6,496.4 L752.7,498.0 L752.7,499.5 L752.8,501.1 L752.8,502.5 L752.9,504.0 L752.9,505.4 L753.0,506.8 L753.0,508.2 L753.0,509.7 L753.1,511.1 L753.1,512.5 L753.2,514.0 L753.2,515.4 L753.2,516.8 L753.3,518.3 L753.3,519.7 L753.4,521.1 L753.4,522.6 L753.4,524.0 L753.5,525.4 L753.5,526.8 L753.5,528.3 L753.6,529.7 L753.6,531.1 L753.6,532.6 L753.7,534.0 L753.7,535.4 L753.7,536.9 L753.8,538.3 L753.8,539.7 L753.8,541.1 L753.9,542.6 L753.9,544.0 L753.9,545.4 L754.0,546.9 L754.0,548.3 L754.0,549.8 L754.1,551.2 L754.1,552.6 L754.1,554.0 L754.1,555.5 L754.2,556.9 L754.2,558.3 L754.2,559.8 L754.3,561.2 L754.3,562.7 L754.3,564.1 L754.3,565.5 L754.4,566.9 L754.4,568.4 L754.4,569.8 L754.4,571.3 L754.5,572.7 L754.5,574.1 L754.5,575.6 L754.5,577.0 L754.6,578.5 L754.6,579.9 L754.6,581.3 L754.6,582.8 L754.7,584.2 L754.7,585.7 L754.7,587.1 L754.7,588.5 L754.7,590.0 L754.8,591.4 L754.8,592.8 L754.8,594.3 L754.8,595.7 L754.8,597.1 L754.9,598.6 L754.9,600.1 L754.9,601.5 L754.9,602.9 L754.9,604.4 L755.0,605.8 L755.0,607.3 L755.0,608.7 L755.0,610.1 L755.0,611.5 L755.1,613.0 L755.1,614.4 L755.1,615.9 L755.1,617.3 L755.1,618.7 L755.1,620.2 L755.2,621.6 L755.2,621.9" fill="none" stroke="#5fb236" stroke-width="2.8" stroke-linejoin="round" />
<path d="M400.5,237.9 L401.9,237.4 L403.2,236.8 L404.5,236.3 L405.9,235.8 L407.2,235.3 L408.6,234.7 L409.9,234.2 L411.2,233.7 L412.6,233.2 L413.9,232.7 L415.2,232.2 L416.6,231.6 L417.9,231.1 L419.3,230.6 L420.6,230.1 L422.0,229.6 L423.3,229.0 L424.7,228.5 L426.0,228.0 L427.4,227.5 L428.7,227.0 L430.0,226.5 L431.4,226.0 L432.7,225.5 L434.1,225.0 L435.4,224.5 L436.8,223.9 L438.2,223.4 L439.5,222.9 L440.8,222.4 L442.2,221.9 L443.5,221.4 L444.9,220.9 L446.3,220.4 L447.6,219.9 L449.0,219.4 L450.3,219.0 L451.7,218.5 L453.0,218.0 L454.4,217.5 L455.7,217.0 L457.1,216.5 L458.5,216.1 L459.9,215.6 L461.2,215.1 L462.6,214.6 L464.0,214.2 L465.3,213.7 L466.7,213.2 L468.0,212.8 L469.4,212.3 L470.8,211.9 L472.1,211.4 L473.5,211.0 L474.9,210.5 L476.3,210.1 L477.7,209.6 L479.1,209.2 L480.5,208.8 L481.9,208.3 L483.3,207.9 L484.6,207.5 L486.0,207.1 L487.4,206.7 L488.7,206.3 L490.1,205.9 L491.5,205.5 L492.9,205.2 L494.2,204.8 L495.6,204.4 L497.0,204.1 L498.4,203.7 L499.8,203.4 L501.2,203.0 L502.5,202.7 L503.9,202.4 L505.3,202.1 L506.7,201.8 L508.1,201.5 L509.5,201.3 L511.0,201.0 L512.4,200.7 L513.9,200.5 L515.3,200.3 L516.7,200.1 L518.2,199.9 L519.6,199.7 L521.1,199.6 L522.5,199.5 L523.9,199.4 L525.3,199.3 L526.8,199.3 L528.2,199.3 L529.7,199.3 L531.1,199.4 L532.6,199.4 L534.0,199.6 L535.4,199.8 L536.8,200.0 L538.3,200.3 L539.7,200.6 L541.1,201.0 L542.4,201.4 L543.8,201.9 L545.1,202.5 L546.4,203.2 L547.7,203.9 L548.9,204.7 L550.1,205.5 L551.2,206.5 L552.2,207.4 L553.3,208.5 L554.2,209.5 L555.1,210.7 L556.0,211.9 L556.8,213.1 L557.5,214.4 L558.2,215.6 L558.8,216.9 L559.4,218.2 L560.0,219.6 L560.5,220.9 L561.0,222.3 L561.4,223.7 L561.9,225.1 L562.2,226.6 L562.6,228.0 L563.0,229.5 L563.3,231.0 L563.6,232.4 L563.9,233.9 L564.1,235.3 L564.4,236.7 L564.6,238.1 L564.8,239.5 L565.0,240.9 L565.2,242.3 L565.3,243.7 L565.5,245.1 L565.7,246.5 L565.8,248.0 L565.9,249.4 L566.1,250.8 L566.2,252.2 L566.3,253.6 L566.4,255.0 L566.5,256.4 L566.6,257.9 L566.7,259.3 L566.8,260.7 L566.8,262.1 L566.9,263.5 L567.0,264.9 L567.0,266.4 L567.1,267.8 L567.2,269.2 L567.2,270.6 L567.3,272.0 L567.3,273.5 L567.4,274.9 L567.4,276.3 L567.5,277.7 L567.5,279.1 L567.5,280.6 L567.6,282.0 L567.6,283.4 L567.6,284.8 L567.7,286.3 L567.7,287.7 L567.7,289.1 L567.7,290.5 L567.8,291.9 L567.8,293.4 L567.8,294.8 L567.8,296.2 L567.9,297.6 L567.9,299.1 L567.9,300.5 L567.9,301.9 L567.9,303.3 L567.9,304.8 L568.0,306.2 L568.0,307.6 L568.0,309.0 L568.0,310.5 L568.0,311.9 L568.0,313.3 L568.0,314.8 L568.0,316.2 L568.0,317.6 L568.0,319.0 L568.1,320.5 L568.1,321.9 L568.1,323.3 L568.1,324.8 L568.1,326.2 L568.1,327.7 L568.1,329.1 L568.1,330.5 L568.1,332.0 L568.1,333.4 L568.1,334.9 L568.1,336.3 L568.1,337.7 L568.1,339.2 L568.1,340.6 L568.1,342.0 L568.1,343.5 L568.1,344.9 L568.1,346.4 L568.2,347.8 L568.2,349.2 L568.2,350.7 L568.2,351.0" fill="none" stroke="#f4b035" stroke-width="2.8" stroke-linejoin="round" />
<path d="M498.7,213.1 L500.1,212.7 L501.5,212.3 L502.9,211.9 L504.3,211.5 L505.6,211.1 L507.0,210.7 L508.4,210.4 L509.8,210.0 L511.2,209.6 L512.6,209.2 L513.9,208.9 L515.3,208.5 L516.8,208.1 L518.2,207.8 L519.5,207.4 L520.9,207.1 L522.3,206.7 L523.7,206.4 L525.1,206.0 L526.6,205.7 L527.9,205.4 L529.3,205.0 L530.7,204.7 L532.1,204.4 L533.5,204.1 L534.9,203.8 L536.4,203.5 L537.8,203.2 L539.2,202.9 L540.6,202.6 L542.0,202.3 L543.4,202.1 L544.8,201.8 L546.3,201.5 L547.7,201.3 L549.1,201.0 L550.5,200.8 L551.9,200.6 L553.3,200.4 L554.8,200.1 L556.2,199.9 L557.6,199.7 L559.1,199.6 L560.5,199.4 L561.9,199.2 L563.4,199.1 L564.9,198.9 L566.3,198.8 L567.7,198.7 L569.1,198.6 L570.6,198.5 L572.0,198.4 L573.4,198.4 L574.9,198.3 L576.3,198.3 L577.8,198.3 L579.3,198.3 L580.7,198.3 L582.2,198.3 L583.6,198.4 L585.0,198.5 L586.5,198.6 L587.9,198.7 L589.3,198.8 L590.8,199.0 L592.2,199.2 L593.6,199.4 L595.1,199.7 L596.5,199.9 L597.9,200.2 L599.3,200.6 L600.7,200.9 L602.1,201.3 L603.5,201.7 L604.9,202.2 L606.3,202.7 L607.6,203.2 L608.9,203.7 L610.3,204.3 L611.6,204.9 L612.8,205.6 L614.1,206.3 L615.4,207.0 L616.6,207.8 L617.8,208.5 L619.0,209.3 L620.2,210.2 L621.3,211.1 L622.5,212.0 L623.6,212.9 L624.6,213.9 L625.7,214.9 L626.7,215.9 L627.7,217.0 L628.7,218.0 L629.7,219.2 L630.6,220.2 L631.5,221.4 L632.4,222.6 L633.3,223.7 L634.1,224.9 L634.9,226.2 L635.7,227.4 L636.5,228.6 L637.2,229.9 L637.9,231.2 L638.6,232.5 L639.3,233.8 L640.0,235.1 L640.6,236.4 L641.3,237.8 L641.9,239.1 L642.5,240.5 L643.1,241.9 L643.6,243.2 L644.2,244.6 L644.7,246.1 L645.2,247.4 L645.7,248.8 L646.2,250.2 L646.7,251.7 L647.2,253.1 L647.6,254.5 L648.0,255.9 L648.5,257.3 L648.9,258.8 L649.3,260.3 L649.7,261.8 L650.1,263.2 L650.4,264.6 L650.8,266.0 L651.1,267.5 L651.5,269.0 L651.8,270.5 L652.2,272.0 L652.5,273.4 L652.8,274.8 L653.1,276.3 L653.4,277.7 L653.7,279.2 L654.0,280.7 L654.2,282.3 L654.5,283.8 L654.8,285.5 L655.0,286.8 L655.3,288.3 L655.5,289.7 L655.7,291.2 L656.0,292.7 L656.2,294.2 L656.4,295.7 L656.6,297.3 L656.9,298.9 L657.1,300.5 L657.3,302.1 L657.5,303.8 L657.7,305.2 L657.9,306.6 L658.0,308.1 L658.2,309.5 L658.4,311.0 L658.5,312.5 L658.7,314.1 L658.9,315.6 L659.0,317.2 L659.2,318.8 L659.4,320.5 L659.5,322.1 L659.7,323.8 L659.8,325.5 L660.0,327.2 L660.2,329.0 L660.3,330.4 L660.4,331.9 L660.5,333.3 L660.6,334.8 L660.7,336.3 L660.9,337.8 L661.0,339.4 L661.1,340.9 L661.2,342.5 L661.3,344.1 L661.4,345.7 L661.5,347.4 L661.6,349.0 L661.8,350.7 L661.9,352.5 L662.0,354.2 L662.1,355.9 L662.2,357.7 L662.3,359.5 L662.4,361.4 L662.5,363.3 L662.5,364.7 L662.6,366.1 L662.7,367.5 L662.8,369.0 L662.8,370.4 L662.9,371.8 L663.0,373.2 L663.0,374.7 L663.1,376.1 L663.1,377.5 L663.2,378.9 L663.3,380.3 L663.3,381.8 L663.4,383.2 L663.4,384.6 L663.5,386.0 L663.5,387.5 L663.6,388.9 L663.7,390.3 L663.7,391.7 L663.8,393.2 L663.8,394.6 L663.9,396.0 L663.9,397.4 L663.9,398.9 L664.0,400.3 L664.0,401.7 L664.1,403.1 L664.1,404.6 L664.2,406.0 L664.2,407.4 L664.2,408.9 L664.3,410.3 L664.3,411.7 L664.4,413.1 L664.4,414.5 L664.4,416.0 L664.5,417.4 L664.5,418.8 L664.5,420.3 L664.6,421.7 L664.6,423.1 L664.6,424.5 L664.7,426.0 L664.7,427.4 L664.7,428.8 L664.8,430.3 L664.8,431.7 L664.8,433.1 L664.9,434.5 L664.9,436.0 L664.9,437.4 L664.9,438.8 L665.0,440.3 L665.0,441.7 L665.0,443.1 L665.0,444.6 L665.1,446.0 L665.1,447.4 L665.1,448.9 L665.1,450.3 L665.2,451.7 L665.2,453.1 L665.2,454.6 L665.2,456.0 L665.3,457.5 L665.3,458.9 L665.3,460.3 L665.3,461.7 L665.3,463.2 L665.4,464.6 L665.4,466.0 L665.4,467.5 L665.4,468.9 L665.4,470.4 L665.4,471.8 L665.5,473.2 L665.5,474.7 L665.5,476.1 L665.5,477.6 L665.5,479.0 L665.5,480.4 L665.6,481.9 L665.6,483.3 L665.6,484.8 L665.6,486.2 L665.6,487.6 L665.6,489.1 L665.7,490.5 L665.7,491.9 L665.7,493.4 L665.7,494.8 L665.7,496.2 L665.7,497.7 L665.7,499.1 L665.7,500.6 L665.8,502.0 L665.8,503.5 L665.8,504.9 L665.8,506.3 L665.8,507.7 L665.8,509.2 L665.8,510.6 L665.8,512.1 L665.8,513.5 L665.9,515.0 L665.9,516.4 L665.9,517.8 L665.9,519.3 L665.9,520.7 L665.9,522.1 L665.9,523.6 L665.9,525.0 L665.9,526.5 L665.9,527.9 L665.9,529.3 L666.0,530.8 L666.0,532.2 L666.0,533.7 L666.0,535.1 L666.0,536.6 L666.0,538.0 L666.0,539.5 L666.0,540.9 L666.0,542.4 L666.0,543.8 L666.0,545.3 L666.0,546.7 L666.0,548.2 L666.1,549.6 L666.1,551.1 L666.1,552.5 L666.1,554.0 L666.1,555.4 L666.1,556.9 L666.1,558.3 L666.1,559.8 L666.1,561.3 L666.1,562.7 L666.1,564.1 L666.1,565.6 L666.1,567.0 L666.1,568.5 L666.1,569.9 L666.1,571.3 L666.1,572.8 L666.1,574.2 L666.2,575.7 L666.2,577.2 L666.2,578.6 L666.2,580.0 L666.2,581.5 L666.2,582.9 L666.2,584.4 L666.2,585.9 L666.2,587.3 L666.2,588.7 L666.2,590.2 L666.2,591.6 L666.2,593.1 L666.2,594.6 L666.2,596.1 L666.2,597.5 L666.2,598.9 L666.2,600.4 L666.2,601.8 L666.2,603.3 L666.2,604.8 L666.2,606.3 L666.2,607.7 L666.2,609.2 L666.2,610.6 L666.2,612.1 L666.2,613.6 L666.3,615.1 L666.3,616.6 L666.3,618.0 L666.3,619.4 L666.3,620.9 L666.3,622.3 L666.3,623.8 L666.3,625.3 L666.3,626.8 L666.3,628.3 L666.3,629.5" fill="none" stroke="#f4b035" stroke-width="2.8" stroke-linejoin="round" />
<path d="M543.3,203.8 L544.7,203.6 L546.1,203.3 L547.5,203.0 L548.9,202.7 L550.4,202.4 L551.8,202.2 L553.2,201.9 L554.6,201.7 L556.0,201.4 L557.4,201.2 L558.9,200.9 L560.3,200.7 L561.7,200.5 L563.1,200.3 L564.5,200.1 L566.0,199.9 L567.4,199.7 L568.8,199.5 L570.2,199.3 L571.6,199.1 L573.1,199.0 L574.5,198.8 L576.0,198.7 L577.4,198.6 L578.8,198.4 L580.2,198.3 L581.7,198.2 L583.1,198.1 L584.6,198.1 L586.0,198.0 L587.5,197.9 L588.9,197.9 L590.3,197.9 L591.8,197.9 L593.2,197.9 L594.6,197.9 L596.1,197.9 L597.6,198.0 L599.0,198.0 L600.4,198.1 L601.8,198.2 L603.3,198.3 L604.7,198.4 L606.2,198.6 L607.6,198.8 L609.0,198.9 L610.4,199.1 L611.8,199.4 L613.3,199.6 L614.7,199.9 L616.1,200.2 L617.5,200.5 L618.9,200.9 L620.3,201.2 L621.7,201.6 L623.1,202.0 L624.4,202.5 L625.8,202.9 L627.1,203.4 L628.5,204.0 L629.9,204.5 L631.2,205.1 L632.5,205.7 L633.8,206.3 L635.1,207.0 L636.4,207.6 L637.6,208.4 L638.9,209.1 L640.1,209.8 L641.3,210.6 L642.5,211.4 L643.7,212.3 L644.9,213.1 L646.0,214.0 L647.2,215.0 L648.2,215.9 L649.3,216.8 L650.4,217.8 L651.5,218.8 L652.5,219.8 L653.5,220.9 L654.5,222.0 L655.5,223.0 L656.5,224.1 L657.4,225.3 L658.3,226.4 L659.2,227.5 L660.1,228.7 L661.0,229.9 L661.9,231.1 L662.7,232.3 L663.6,233.5 L664.3,234.7 L665.1,235.9 L665.9,237.2 L666.6,238.5 L667.4,239.8 L668.1,241.1 L668.8,242.3 L669.5,243.7 L670.2,245.0 L670.9,246.3 L671.5,247.6 L672.1,248.9 L672.8,250.3 L673.4,251.7 L674.0,253.0 L674.6,254.3 L675.1,255.7 L675.7,257.0 L676.3,258.5 L676.8,259.9 L677.3,261.2 L677.8,262.6 L678.3,263.9 L678.8,265.3 L679.3,266.8 L679.8,268.2 L680.3,269.7 L680.8,271.2 L681.3,272.6 L681.7,274.0 L682.1,275.4 L682.6,276.8 L683.0,278.3 L683.4,279.8 L683.9,281.3 L684.3,282.8 L684.7,284.2 L685.0,285.6 L685.4,287.0 L685.8,288.4 L686.1,289.9 L686.5,291.3 L686.9,292.8 L687.2,294.4 L687.6,295.9 L687.9,297.5 L688.3,299.1 L688.6,300.4 L688.9,301.8 L689.2,303.3 L689.5,304.7 L689.8,306.2 L690.1,307.6 L690.4,309.1 L690.7,310.6 L691.0,312.2 L691.3,313.7 L691.5,315.3 L691.8,316.9 L692.1,318.5 L692.4,320.2 L692.7,321.8 L692.9,323.2 L693.2,324.6 L693.4,326.1 L693.6,327.5 L693.8,329.0 L694.1,330.5 L694.3,332.0 L694.5,333.5 L694.8,335.0 L695.0,336.6 L695.2,338.2 L695.4,339.7 L695.7,341.4 L695.9,343.0 L696.1,344.6 L696.3,346.3 L696.5,348.0 L696.7,349.7 L697.0,351.4 L697.2,353.1 L697.3,354.6 L697.5,356.0 L697.7,357.4 L697.8,358.9 L698.0,360.3 L698.2,361.8 L698.3,363.3 L698.5,364.8 L698.7,366.3 L698.8,367.9 L699.0,369.4 L699.2,371.0 L699.3,372.6 L699.5,374.2 L699.6,375.8 L699.8,377.4 L699.9,379.1 L700.1,380.7 L700.3,382.4 L700.4,384.1 L700.6,385.8 L700.7,387.6 L700.9,389.3 L701.0,391.1 L701.2,392.9 L701.3,394.7 L701.5,396.5 L701.6,398.4 L701.7,400.2 L701.9,401.6 L702.0,403.0 L702.1,404.5 L702.2,405.9 L702.3,407.4 L702.4,408.9 L702.5,410.3 L702.6,411.8 L702.7,413.3 L702.8,414.8 L702.9,416.4 L703.0,417.9 L703.1,419.5 L703.2,421.0 L703.3,422.6 L703.4,424.2 L703.5,425.8 L703.6,427.4 L703.7,429.1 L703.8,430.7 L703.9,432.4 L704.0,434.1 L704.1,435.8 L704.2,437.5 L704.3,439.2 L704.4,440.9 L704.5,442.7 L704.6,444.4 L704.7,446.2 L704.7,448.0 L704.8,449.8 L704.9,451.7 L705.0,453.5 L705.1,455.4 L705.2,457.3 L705.3,459.2 L705.4,461.1 L705.5,463.0 L705.5,465.0 L705.6,467.0 L705.7,469.0 L705.8,471.0 L705.9,473.0 L706.0,475.1 L706.0,477.1 L706.1,479.2 L706.2,481.3 L706.3,482.7 L706.3,484.2 L706.4,485.6 L706.4,487.1 L706.5,488.5 L706.5,490.0 L706.6,491.5 L706.6,493.0 L706.7,494.5 L706.7,496.0 L706.8,497.5 L706.8,499.0 L706.9,500.6 L706.9,502.1 L707.0,503.7 L707.0,505.2 L707.1,506.8 L707.1,508.3 L707.2,509.7 L707.2,511.1 L707.3,512.5 L707.3,514.0 L707.3,515.4 L707.4,516.8 L707.4,518.3 L707.5,519.7 L707.5,521.1 L707.5,522.6 L707.6,524.0 L707.6,525.4 L707.7,526.9 L707.7,528.3 L707.7,529.7 L707.8,531.2 L707.8,532.6 L707.8,534.0 L707.9,535.4 L707.9,536.9 L707.9,538.3 L708.0,539.7 L708.0,541.2 L708.0,542.6 L708.1,544.0 L708.1,545.5 L708.1,546.9 L708.2,548.3 L708.2,549.7 L708.2,551.2 L708.3,552.6 L708.3,554.0 L708.3,555.5 L708.4,556.9 L708.4,558.3 L708.4,559.8 L708.4,561.2 L708.5,562.7 L708.5,564.1 L708.5,565.5 L708.6,567.0 L708.6,568.4 L708.6,569.8 L708.6,571.3 L708.7,572.7 L708.7,574.1 L708.7,575.6 L708.7,577.0 L708.8,578.4 L708.8,579.9 L708.8,581.3 L708.8,582.8 L708.9,584.2 L708.9,585.6 L708.9,587.1 L708.9,588.5 L709.0,590.0 L709.0,591.4 L709.0,592.8 L709.0,594.3 L709.0,595.7 L709.1,597.2 L709.1,598.6 L709.1,600.0 L709.1,601.5 L709.2,602.9 L709.2,604.4 L709.2,605.8 L709.2,607.2 L709.2,608.6 L709.2,610.1 L709.3,611.5 L709.3,613.0 L709.3,614.4 L709.3,615.8 L709.3,617.2 L709.4,618.7 L709.4,620.1 L709.4,621.6 L709.4,623.0 L709.4,624.4 L709.5,625.9 L709.5,627.3 L709.5,628.8 L709.5,629.5" fill="none" stroke="#f4b035" stroke-width="2.8" stroke-linejoin="round" />
<path d="M304.2,273.4 L305.5,272.8 L306.8,272.2 L308.1,271.7 L309.4,271.1 L310.7,270.5 L312.0,269.9 L313.3,269.3 L314.6,268.8 L316.0,268.2 L317.3,267.6 L318.6,267.0 L319.9,266.4 L321.2,265.9 L322.5,265.3 L323.8,264.7 L325.1,264.2 L326.4,263.6 L327.7,263.0 L329.0,262.5 L330.4,261.9 L331.7,261.3 L333.0,260.8 L334.3,260.2 L335.6,259.6 L336.9,259.1 L338.2,258.5 L339.5,257.9 L340.9,257.4 L342.2,256.8 L343.5,256.2 L344.8,255.7 L346.2,255.1 L347.5,254.5 L348.8,254.0 L350.1,253.4 L351.4,252.9 L352.8,252.3 L354.1,251.8 L355.4,251.2 L356.7,250.7 L358.0,250.1 L359.4,249.5 L360.7,249.0 L362.0,248.4 L363.4,247.9 L364.7,247.3 L366.0,246.8 L367.4,246.2 L368.7,245.7 L370.0,245.1 L371.3,244.6 L372.7,244.1 L374.0,243.5 L375.3,243.0 L376.7,242.4 L378.0,241.9 L379.3,241.4 L380.7,240.8 L382.0,240.3 L383.3,239.7 L384.7,239.2 L386.0,238.7 L387.3,238.1 L388.7,237.6 L390.1,237.1 L391.4,236.5 L392.7,236.0 L394.0,235.5 L395.4,235.0 L396.7,234.4 L398.1,233.9 L399.4,233.4 L400.8,232.9 L402.1,232.3 L403.4,231.8 L404.8,231.3 L406.2,230.8 L407.5,230.3 L408.8,229.8 L410.2,229.3 L411.5,228.8 L412.9,228.2 L414.2,227.7 L415.6,227.2 L417.0,226.7 L418.3,226.2 L419.6,225.7 L421.0,225.2 L422.3,224.8 L423.7,224.3 L425.0,223.8 L426.4,223.3 L427.8,222.8 L429.2,222.3 L430.5,221.8 L431.8,221.3 L433.2,220.9 L434.5,220.4 L435.9,219.9 L437.3,219.5 L438.7,219.0 L440.0,218.5 L441.4,218.1 L442.8,217.6 L444.2,217.1 L445.5,216.7 L446.9,216.3 L448.2,215.8 L449.6,215.4 L451.0,215.0 L452.3,214.5 L453.7,214.1 L455.1,213.7 L456.5,213.2 L457.9,212.8 L459.3,212.4 L460.7,212.0 L462.1,211.6 L463.5,211.2 L464.9,210.8 L466.4,210.4 L467.7,210.0 L469.1,209.7 L470.5,209.3 L471.8,209.0 L473.2,208.6 L474.6,208.3 L476.0,208.0 L477.4,207.6 L478.8,207.3 L480.1,207.0 L481.5,206.7 L482.9,206.4 L484.3,206.2 L485.7,205.9 L487.2,205.6 L488.6,205.4 L490.1,205.2 L491.5,205.0 L493.0,204.8 L494.4,204.6 L495.8,204.4 L497.3,204.3 L498.7,204.1 L500.2,204.0 L501.6,204.0 L503.0,203.9 L504.4,203.9 L505.9,203.9 L507.4,203.9 L508.8,204.0 L510.3,204.1 L511.7,204.2 L513.1,204.4 L514.5,204.6 L515.9,204.8 L517.3,205.1 L518.8,205.5 L520.2,205.9 L521.5,206.4 L522.9,207.0 L524.2,207.6 L525.5,208.2 L526.7,208.9 L527.9,209.8 L529.1,210.6 L530.2,211.5 L531.2,212.5 L532.3,213.5 L533.2,214.6 L534.1,215.7 L535.0,216.9 L535.8,218.2 L536.6,219.4 L537.3,220.7 L537.9,222.0 L538.6,223.3 L539.1,224.6 L539.7,226.0 L540.2,227.4 L540.6,228.8 L541.1,230.2 L541.5,231.6 L541.9,233.1 L542.2,234.5 L542.5,235.9 L542.8,237.3 L543.1,238.8 L543.4,240.3 L543.7,241.8 L543.9,243.2 L544.1,244.6 L544.3,246.0 L544.5,247.4 L544.7,248.8 L544.9,250.2 L545.0,251.6 L545.2,253.0 L545.3,254.4 L545.4,255.8 L545.5,257.3 L545.7,258.7 L545.8,260.1 L545.9,261.5 L546.0,262.9 L546.1,264.3 L546.2,265.7 L546.2,267.2 L546.3,268.6 L546.4,270.0 L546.5,271.4 L546.5,272.8 L546.6,274.2 L546.6,275.7 L546.7,277.1 L546.7,278.5 L546.8,279.9 L546.8,281.3 L546.9,282.7 L546.9,284.2 L547.0,285.6 L547.0,287.0 L547.0,288.4 L547.1,289.9 L547.1,291.3 L547.1,292.7 L547.2,294.1 L547.2,295.6 L547.2,297.0 L547.2,298.4 L547.3,299.8 L547.3,301.3 L547.3,302.7 L547.3,304.1 L547.3,305.6 L547.4,307.0 L547.4,308.4 L547.4,309.8 L547.4,311.3 L547.4,312.7 L547.4,314.1 L547.4,315.5 L547.5,317.0 L547.5,318.4 L547.5,319.8 L547.5,321.3 L547.5,322.7 L547.5,324.1 L547.5,325.5 L547.5,327.0 L547.5,328.4 L547.5,329.9 L547.5,331.3 L547.6,332.8 L547.6,334.2 L547.6,335.7 L547.6,336.6" fill="none" stroke="#41ace3" stroke-width="2.8" stroke-linejoin="round" />
<path d="M401.1,244.4 L402.4,243.9 L403.8,243.4 L405.1,242.9 L406.4,242.4 L407.8,241.9 L409.1,241.4 L410.5,240.9 L411.8,240.4 L413.1,239.9 L414.5,239.4 L415.8,238.9 L417.2,238.4 L418.5,237.9 L419.8,237.4 L421.2,236.9 L422.6,236.4 L423.9,235.9 L425.2,235.4 L426.6,234.9 L427.9,234.4 L429.3,234.0 L430.6,233.5 L432.0,233.0 L433.3,232.5 L434.6,232.0 L436.0,231.5 L437.3,231.0 L438.7,230.5 L440.0,230.1 L441.4,229.6 L442.7,229.1 L444.1,228.6 L445.4,228.1 L446.8,227.7 L448.1,227.2 L449.5,226.7 L450.8,226.2 L452.2,225.8 L453.5,225.3 L454.9,224.8 L456.3,224.3 L457.6,223.9 L459.0,223.4 L460.3,222.9 L461.7,222.5 L463.0,222.0 L464.4,221.5 L465.7,221.1 L467.1,220.6 L468.5,220.2 L469.9,219.7 L471.2,219.2 L472.6,218.8 L473.9,218.3 L475.3,217.9 L476.7,217.4 L478.0,217.0 L479.4,216.5 L480.8,216.1 L482.1,215.7 L483.5,215.2 L484.9,214.8 L486.3,214.4 L487.6,213.9 L489.0,213.5 L490.4,213.1 L491.8,212.7 L493.2,212.2 L494.5,211.8 L495.9,211.4 L497.3,211.0 L498.7,210.6 L500.0,210.2 L501.4,209.8 L502.9,209.4 L504.2,209.0 L505.6,208.6 L507.0,208.2 L508.4,207.9 L509.8,207.5 L511.2,207.1 L512.6,206.7 L514.0,206.4 L515.3,206.0 L516.7,205.7 L518.1,205.3 L519.5,205.0 L520.9,204.7 L522.4,204.3 L523.8,204.0 L525.2,203.7 L526.6,203.4 L528.0,203.1 L529.4,202.8 L530.8,202.5 L532.2,202.3 L533.6,202.0 L535.1,201.7 L536.5,201.5 L537.9,201.2 L539.4,201.0 L540.8,200.8 L542.2,200.6 L543.6,200.4 L545.0,200.2 L546.4,200.0 L547.9,199.9 L549.3,199.7 L550.7,199.6 L552.2,199.5 L553.6,199.3 L555.1,199.3 L556.5,199.2 L558.0,199.1 L559.5,199.1 L560.9,199.1 L562.3,199.1 L563.7,199.1 L565.2,199.1 L566.6,199.2 L568.0,199.3 L569.5,199.4 L570.9,199.5 L572.3,199.7 L573.8,199.9 L575.2,200.1 L576.7,200.4 L578.1,200.6 L579.5,200.9 L580.8,201.3 L582.2,201.6 L583.6,202.0 L585.0,202.5 L586.4,203.0 L587.7,203.5 L589.1,204.0 L590.4,204.6 L591.7,205.2 L593.0,205.9 L594.2,206.5 L595.5,207.3 L596.8,208.1 L598.0,208.8 L599.1,209.7 L600.3,210.6 L601.4,211.5 L602.6,212.4 L603.7,213.4 L604.7,214.4 L605.8,215.4 L606.7,216.4 L607.7,217.5 L608.7,218.6 L609.6,219.7 L610.5,220.8 L611.4,222.0 L612.2,223.2 L613.1,224.4 L613.9,225.6 L614.7,226.8 L615.4,228.1 L616.2,229.4 L616.9,230.6 L617.6,231.9 L618.3,233.3 L618.9,234.5 L619.5,235.8 L620.2,237.2 L620.8,238.6 L621.3,239.9 L621.9,241.2 L622.5,242.6 L623.0,244.0 L623.5,245.5 L624.0,246.8 L624.5,248.2 L625.0,249.7 L625.5,251.1 L625.9,252.5 L626.3,253.9 L626.8,255.3 L627.2,256.7 L627.6,258.2 L628.0,259.7 L628.4,261.1 L628.7,262.5 L629.1,263.9 L629.4,265.4 L629.8,266.8 L630.1,268.4 L630.5,269.9 L630.8,271.5 L631.1,272.9 L631.4,274.3 L631.7,275.8 L632.0,277.3 L632.3,278.8 L632.6,280.3 L632.8,281.9 L633.1,283.5 L633.4,284.9 L633.6,286.3 L633.8,287.8 L634.0,289.2 L634.3,290.7 L634.5,292.3 L634.7,293.8 L634.9,295.4 L635.2,297.0 L635.4,298.6 L635.6,300.2 L635.8,301.9 L636.0,303.3 L636.2,304.8 L636.3,306.2 L636.5,307.7 L636.7,309.2 L636.8,310.7 L637.0,312.3 L637.2,313.8 L637.3,315.4 L637.5,317.0 L637.7,318.7 L637.8,320.4 L638.0,322.0 L638.1,323.8 L638.3,325.5 L638.4,326.9 L638.5,328.4 L638.6,329.8 L638.8,331.3 L638.9,332.8 L639.0,334.3 L639.1,335.8 L639.2,337.4 L639.3,338.9 L639.4,340.5 L639.6,342.1 L639.7,343.8 L639.8,345.4 L639.9,347.1 L640.0,348.8 L640.1,350.5 L640.2,352.3 L640.3,354.0 L640.4,355.8 L640.5,357.7 L640.6,359.5 L640.7,360.9 L640.7,362.4 L640.8,363.8 L640.9,365.2 L641.0,366.6 L641.0,368.1 L641.1,369.5 L641.2,370.9 L641.2,372.3 L641.3,373.7 L641.3,375.2 L641.4,376.6 L641.5,378.0 L641.5,379.4 L641.6,380.9 L641.6,382.3 L641.7,383.7 L641.7,385.1 L641.8,386.5 L641.8,388.0 L641.9,389.4 L641.9,390.8 L642.0,392.3 L642.0,393.7 L642.1,395.1 L642.1,396.5 L642.2,398.0 L642.2,399.4 L642.3,400.8 L642.3,402.2 L642.4,403.7 L642.4,405.1 L642.4,406.5 L642.5,407.9 L642.5,409.4 L642.5,410.8 L642.6,412.2 L642.6,413.7 L642.7,415.1 L642.7,416.5 L642.7,417.9 L642.8,419.3 L642.8,420.8 L642.8,422.2 L642.9,423.6 L642.9,425.0 L642.9,426.5 L642.9,427.9 L643.0,429.3 L643.0,430.8 L643.0,432.2 L643.1,433.6 L643.1,435.1 L643.1,436.5 L643.1,437.9 L643.2,439.3 L643.2,440.8 L643.2,442.2 L643.2,443.6 L643.3,445.1 L643.3,446.5 L643.3,447.9 L643.3,449.4 L643.4,450.8 L643.4,452.2 L643.4,453.7 L643.4,455.1 L643.4,456.5 L643.5,458.0 L643.5,459.4 L643.5,460.8 L643.5,462.2 L643.5,463.7 L643.6,465.1 L643.6,466.5 L643.6,468.0 L643.6,469.4 L643.6,470.8 L643.7,472.3 L643.7,473.7 L643.7,475.2 L643.7,476.6 L643.7,478.0 L643.7,479.5 L643.7,480.9 L643.8,482.3 L643.8,483.8 L643.8,485.2 L643.8,486.6 L643.8,488.1 L643.8,489.5 L643.8,491.0 L643.9,492.4 L643.9,493.8 L643.9,495.3 L643.9,496.7 L643.9,498.1 L643.9,499.6 L643.9,501.0 L643.9,502.5 L644.0,503.9 L644.0,505.4 L644.0,506.8 L644.0,508.2 L644.0,509.6 L644.0,511.1 L644.0,512.5 L644.0,513.9 L644.0,515.4 L644.0,516.8 L644.1,518.3 L644.1,519.7 L644.1,521.1 L644.1,522.6 L644.1,524.0 L644.1,525.4 L644.1,526.9 L644.1,528.3 L644.1,529.8 L644.1,531.2 L644.1,532.7 L644.2,534.1 L644.2,535.6 L644.2,537.0 L644.2,538.4 L644.2,539.9 L644.2,541.3 L644.2,542.8 L644.2,544.2 L644.2,545.6 L644.2,547.1 L644.2,548.5 L644.2,550.0 L644.2,551.4 L644.2,552.9 L644.2,554.3 L644.3,555.8 L644.3,557.2 L644.3,558.7 L644.3,560.1 L644.3,561.5 L644.3,563.0 L644.3,564.4 L644.3,565.9 L644.3,567.4 L644.3,568.8 L644.3,570.2 L644.3,571.7 L644.3,573.2 L644.3,574.7 L644.3,576.1 L644.3,577.5 L644.3,579.0 L644.3,580.5 L644.3,581.9 L644.3,583.4 L644.3,584.9 L644.4,586.3 L644.4,587.7 L644.4,589.2 L644.4,590.7 L644.4,592.2 L644.4,593.6 L644.4,595.0 L644.4,596.5 L644.4,597.9 L644.4,599.4 L644.4,600.9 L644.4,602.4 L644.4,603.8 L644.4,605.2 L644.4,606.7 L644.4,608.1 L644.4,609.6 L644.4,611.1 L644.4,612.6 L644.4,614.1 L644.4,615.5 L644.4,617.0 L644.4,618.4 L644.4,619.9 L644.4,621.4 L644.4,622.9 L644.4,624.4 L644.4,625.8 L644.4,627.2 L644.4,628.7 L644.4,629.5" fill="none" stroke="#41ace3" stroke-width="2.8" stroke-linejoin="round" />
<path d="M448.1,233.2 L449.4,232.7 L450.8,232.2 L452.1,231.8 L453.5,231.3 L454.8,230.8 L456.2,230.4 L457.5,229.9 L458.9,229.5 L460.2,229.0 L461.6,228.5 L463.0,228.1 L464.3,227.6 L465.7,227.2 L467.0,226.7 L468.4,226.3 L469.7,225.8 L471.1,225.4 L472.4,224.9 L473.8,224.5 L475.2,224.0 L476.5,223.6 L477.9,223.1 L479.2,222.7 L480.6,222.3 L482.0,221.8 L483.3,221.4 L484.7,221.0 L486.1,220.5 L487.5,220.1 L488.8,219.7 L490.2,219.2 L491.5,218.8 L492.9,218.4 L494.3,218.0 L495.7,217.6 L497.0,217.1 L498.4,216.7 L499.8,216.3 L501.2,215.9 L502.5,215.5 L503.9,215.1 L505.3,214.7 L506.7,214.3 L508.1,213.9 L509.4,213.5 L510.8,213.1 L512.2,212.7 L513.6,212.4 L515.0,212.0 L516.4,211.6 L517.8,211.2 L519.2,210.9 L520.6,210.5 L521.9,210.1 L523.3,209.8 L524.7,209.4 L526.1,209.1 L527.5,208.7 L528.9,208.4 L530.3,208.1 L531.7,207.7 L533.1,207.4 L534.5,207.1 L535.9,206.8 L537.3,206.5 L538.7,206.2 L540.1,205.9 L541.5,205.6 L543.0,205.3 L544.4,205.0 L545.8,204.7 L547.2,204.5 L548.6,204.2 L550.0,204.0 L551.4,203.7 L552.9,203.5 L554.3,203.3 L555.7,203.1 L557.1,202.8 L558.5,202.6 L560.0,202.5 L561.4,202.3 L562.8,202.1 L564.3,201.9 L565.7,201.8 L567.2,201.7 L568.6,201.5 L570.0,201.4 L571.4,201.3 L572.9,201.2 L574.3,201.2 L575.8,201.1 L577.2,201.1 L578.7,201.0 L580.1,201.0 L581.5,201.0 L582.9,201.0 L584.4,201.1 L585.8,201.1 L587.3,201.2 L588.7,201.3 L590.2,201.4 L591.6,201.6 L593.0,201.7 L594.5,201.9 L595.9,202.1 L597.3,202.3 L598.8,202.6 L600.2,202.8 L601.6,203.1 L603.0,203.5 L604.4,203.8 L605.8,204.2 L607.2,204.6 L608.5,205.0 L609.9,205.5 L611.3,206.0 L612.6,206.5 L614.0,207.0 L615.3,207.6 L616.6,208.2 L617.9,208.9 L619.2,209.5 L620.4,210.2 L621.7,211.0 L623.0,211.7 L624.2,212.5 L625.4,213.3 L626.6,214.2 L627.7,215.0 L628.9,215.9 L630.0,216.8 L631.1,217.8 L632.2,218.7 L633.3,219.7 L634.3,220.7 L635.4,221.8 L636.4,222.8 L637.3,223.9 L638.3,225.0 L639.3,226.1 L640.2,227.2 L641.1,228.3 L642.0,229.5 L642.9,230.7 L643.7,231.9 L644.5,233.1 L645.4,234.3 L646.1,235.5 L646.9,236.7 L647.7,238.0 L648.5,239.3 L649.2,240.5 L649.9,241.8 L650.6,243.1 L651.3,244.4 L652.0,245.7 L652.6,247.0 L653.2,248.3 L653.9,249.7 L654.5,251.1 L655.1,252.5 L655.7,253.8 L656.3,255.1 L656.8,256.5 L657.4,257.9 L658.0,259.3 L658.5,260.8 L659.0,262.1 L659.5,263.5 L660.0,264.9 L660.5,266.3 L661.0,267.8 L661.5,269.2 L662.0,270.8 L662.4,272.1 L662.9,273.5 L663.3,274.9 L663.7,276.4 L664.2,277.8 L664.6,279.3 L665.0,280.8 L665.4,282.4 L665.8,283.8 L666.2,285.2 L666.5,286.6 L666.9,288.0 L667.3,289.5 L667.6,291.0 L668.0,292.5 L668.3,294.0 L668.7,295.5 L669.1,297.1 L669.4,298.7 L669.7,300.1 L670.0,301.5 L670.3,303.0 L670.6,304.4 L670.9,305.9 L671.2,307.4 L671.5,308.9 L671.8,310.4 L672.1,312.0 L672.4,313.5 L672.6,315.1 L672.9,316.7 L673.2,318.4 L673.5,320.0 L673.7,321.4 L674.0,322.8 L674.2,324.3 L674.4,325.7 L674.7,327.2 L674.9,328.7 L675.1,330.2 L675.3,331.7 L675.6,333.2 L675.8,334.8 L676.0,336.4 L676.2,337.9 L676.4,339.6 L676.7,341.2 L676.9,342.8 L677.1,344.5 L677.3,346.2 L677.5,347.9 L677.7,349.6 L678.0,351.4 L678.1,352.8 L678.3,354.2 L678.5,355.7 L678.6,357.1 L678.8,358.6 L679.0,360.1 L679.1,361.6 L679.3,363.1 L679.4,364.6 L679.6,366.2 L679.8,367.7 L679.9,369.3 L680.1,370.9 L680.2,372.5 L680.4,374.1 L680.6,375.8 L680.7,377.4 L680.9,379.1 L681.0,380.8 L681.2,382.5 L681.3,384.2 L681.5,386.0 L681.6,387.7 L681.8,389.5 L681.9,391.3 L682.1,393.1 L682.2,394.9 L682.4,396.8 L682.5,398.7 L682.6,400.1 L682.7,401.5 L682.8,403.0 L682.9,404.4 L683.0,405.9 L683.1,407.4 L683.2,408.9 L683.3,410.4 L683.4,411.9 L683.5,413.4 L683.6,415.0 L683.7,416.5 L683.8,418.1 L683.9,419.7 L684.0,421.3 L684.1,422.9 L684.2,424.5 L684.3,426.1 L684.4,427.8 L684.5,429.5 L684.6,431.1 L684.7,432.8 L684.8,434.5 L684.9,436.3 L685.0,438.0 L685.1,439.8 L685.2,441.5 L685.3,443.3 L685.4,445.1 L685.5,446.9 L685.6,448.8 L685.6,450.6 L685.7,452.5 L685.8,454.4 L685.9,456.3 L686.0,458.2 L686.1,460.2 L686.2,462.1 L686.3,464.1 L686.3,466.1 L686.4,468.1 L686.5,470.2 L686.6,472.2 L686.7,474.3 L686.8,476.4 L686.8,478.5 L686.9,479.9 L686.9,481.4 L687.0,482.8 L687.0,484.3 L687.1,485.7 L687.2,487.2 L687.2,488.7 L687.3,490.2 L687.3,491.7 L687.4,493.2 L687.4,494.7 L687.5,496.3 L687.5,497.8 L687.6,499.4 L687.6,501.0 L687.7,502.5 L687.7,504.0 L687.7,505.4 L687.8,506.8 L687.8,508.3 L687.9,509.7 L687.9,511.1 L688.0,512.5 L688.0,514.0 L688.0,515.4 L688.1,516.9 L688.1,518.3 L688.2,519.7 L688.2,521.1 L688.2,522.6 L688.3,524.0 L688.3,525.4 L688.3,526.9 L688.4,528.3 L688.4,529.7 L688.4,531.2 L688.5,532.6 L688.5,534.0 L688.6,535.4 L688.6,536.9 L688.6,538.3 L688.7,539.7 L688.7,541.2 L688.7,542.6 L688.7,544.0 L688.8,545.5 L688.8,546.9 L688.8,548.3 L688.9,549.8 L688.9,551.2 L688.9,552.6 L689.0,554.1 L689.0,555.5 L689.0,557.0 L689.0,558.4 L689.1,559.8 L689.1,561.2 L689.1,562.7 L689.2,564.1 L689.2,565.5 L689.2,567.0 L689.2,568.4 L689.3,569.8 L689.3,571.3 L689.3,572.7 L689.3,574.1 L689.4,575.6 L689.4,577.0 L689.4,578.5 L689.4,579.9 L689.5,581.3 L689.5,582.8 L689.5,584.2 L689.5,585.7 L689.6,587.1 L689.6,588.5 L689.6,590.0 L689.6,591.4 L689.6,592.9 L689.7,594.3 L689.7,595.7 L689.7,597.1 L689.7,598.6 L689.7,600.0 L689.8,601.5 L689.8,602.9 L689.8,604.4 L689.8,605.8 L689.8,607.2 L689.9,608.7 L689.9,610.1 L689.9,611.5 L689.9,613.0 L689.9,614.4 L690.0,615.9 L690.0,617.3 L690.0,618.7 L690.0,620.2 L690.0,621.6 L690.0,623.0 L690.1,624.5 L690.1,625.9 L690.1,627.4 L690.1,628.8 L690.1,629.5" fill="none" stroke="#41ace3" stroke-width="2.8" stroke-linejoin="round" />
<path d="M568.5,366.6 L568.5,365.4 L568.5,364.0 L568.5,362.5 L568.5,361.0 L568.5,359.6 L568.5,358.1 L568.5,356.7 L568.5,355.3 L568.5,353.8 L568.5,352.4 L568.5,350.9 L568.5,349.4 L568.5,348.0 L568.5,346.6 L568.5,345.1 L568.5,343.7 L568.5,342.3 L568.5,340.8 L568.5,339.4 L568.5,337.9 L568.5,336.5 L568.5,335.0 L568.5,333.6 L568.5,332.2 L568.5,330.8 L568.4,329.4 L568.4,327.9 L568.4,326.5 L568.4,325.1 L568.4,323.7 L568.4,322.2 L568.4,320.8 L568.4,319.4 L568.4,317.9 L568.4,316.5 L568.4,315.1 L568.3,313.6 L568.3,312.2 L568.3,310.8 L568.3,309.4 L568.3,307.9 L568.3,306.5 L568.3,305.1 L568.2,303.6 L568.2,302.2 L568.2,300.8 L568.2,299.4 L568.2,298.0 L568.1,296.5 L568.1,295.1 L568.1,293.7 L568.1,292.3 L568.0,290.8 L568.0,289.4 L568.0,288.0 L568.0,286.6 L567.9,285.1 L567.9,283.7 L567.8,282.3 L567.8,280.9 L567.8,279.5 L567.7,278.0 L567.7,276.6 L567.6,275.2 L567.6,273.8 L567.5,272.3 L567.4,270.9 L567.4,269.5 L567.3,268.1 L567.2,266.7 L567.2,265.2 L567.1,263.8 L567.0,262.4 L566.9,261.0 L566.8,259.6 L566.7,258.2 L566.6,256.8 L566.5,255.3 L566.4,253.9 L566.3,252.5 L566.1,251.1 L566.0,249.7 L565.8,248.3 L565.7,246.9 L565.5,245.5 L565.3,244.1 L565.1,242.7 L564.9,241.2 L564.7,239.8 L564.5,238.4 L564.2,237.0 L564.0,235.6 L563.7,234.1 L563.4,232.6 L563.1,231.2 L562.7,229.8 L562.4,228.4 L562.0,226.9 L561.6,225.5 L561.1,224.1 L560.6,222.7 L560.1,221.3 L559.6,219.9 L559.0,218.6 L558.4,217.3 L557.8,216.0 L557.1,214.6 L556.4,213.4 L555.6,212.1 L554.8,210.9 L553.9,209.8 L553.0,208.6 L552.1,207.5 L551.1,206.5 L550.1,205.4 L549.0,204.5 L547.8,203.5 L546.7,202.7 L545.5,201.8 L544.3,201.1 L543.0,200.3 L541.7,199.7 L540.5,199.1 L539.2,198.5 L537.8,198.0 L536.4,197.5 L535.0,197.0 L533.6,196.6 L532.2,196.3 L530.7,196.0 L529.3,195.7 L527.9,195.4 L526.5,195.2 L525.1,195.1 L523.7,194.9 L522.2,194.8 L520.8,194.7 L519.4,194.6 L517.9,194.5 L516.5,194.5 L515.1,194.5 L513.6,194.5 L512.2,194.5 L510.7,194.6 L509.3,194.6 L507.8,194.7 L506.4,194.8 L504.9,194.9 L503.5,195.1 L502.0,195.2 L500.6,195.3 L499.1,195.5 L497.7,195.7 L496.2,195.9 L494.8,196.1 L493.3,196.3 L491.9,196.5 L490.5,196.7 L489.0,196.9 L487.6,197.2 L486.2,197.4 L484.8,197.7 L483.4,198.0 L481.9,198.2 L480.5,198.5 L479.1,198.8 L477.7,199.1 L476.3,199.4 L475.0,199.7 L473.6,200.0 L472.1,200.3 L470.7,200.7 L469.3,201.0 L467.9,201.4 L466.5,201.7 L465.1,202.1 L463.7,202.4 L462.3,202.8 L460.9,203.1 L459.5,203.5 L458.1,203.9 L456.8,204.3 L455.3,204.7 L453.9,205.1 L452.5,205.5 L451.1,205.9 L449.7,206.3 L448.4,206.7 L447.0,207.1 L445.6,207.5 L444.3,207.9 L442.9,208.3" fill="none" stroke="#ec7579" stroke-width="6" stroke-linejoin="round" stroke-dasharray="6.3 8.2"/>
<path d="M547.6,350.7 L547.6,350.2 L547.6,348.8 L547.6,347.3 L547.6,345.9 L547.6,344.4 L547.6,343.0 L547.6,341.6 L547.6,340.1 L547.6,338.7 L547.6,337.2 L547.6,335.8 L547.6,334.3 L547.6,332.9 L547.5,331.5 L547.5,330.1 L547.5,328.7 L547.5,327.2 L547.5,325.8 L547.5,324.3 L547.5,322.9 L547.5,321.5 L547.5,320.1 L547.5,318.6 L547.5,317.2 L547.4,315.8 L547.4,314.4 L547.4,312.9 L547.4,311.5 L547.4,310.1 L547.4,308.7 L547.4,307.3 L547.3,305.8 L547.3,304.4 L547.3,303.0 L547.3,301.6 L547.3,300.1 L547.2,298.7 L547.2,297.3 L547.2,295.9 L547.2,294.5 L547.1,293.0 L547.1,291.6 L547.1,290.2 L547.0,288.8 L547.0,287.3 L547.0,285.9 L546.9,284.5 L546.9,283.1 L546.9,281.7 L546.8,280.2 L546.8,278.8 L546.7,277.4 L546.7,276.0 L546.6,274.6 L546.5,273.1 L546.5,271.7 L546.4,270.3 L546.3,268.9 L546.3,267.5 L546.2,266.1 L546.1,264.6 L546.0,263.2 L545.9,261.8 L545.8,260.4 L545.7,259.0 L545.6,257.6 L545.5,256.1 L545.3,254.7 L545.2,253.3 L545.0,251.9 L544.9,250.5 L544.7,249.1 L544.5,247.7 L544.4,246.3 L544.2,244.9 L544.0,243.5 L543.7,242.1 L543.5,240.6 L543.2,239.2 L542.9,237.7 L542.6,236.3 L542.3,234.8 L541.9,233.4 L541.6,231.9 L541.2,230.5 L540.7,229.1 L540.3,227.7 L539.8,226.3 L539.3,225.0 L538.7,223.6 L538.1,222.3 L537.4,221.0 L536.8,219.7 L536.0,218.5 L535.2,217.2 L534.4,216.1 L533.5,214.9 L532.5,213.8 L531.6,212.8 L530.5,211.8 L529.4,210.9 L528.3,210.0 L527.0,209.2 L525.8,208.4 L524.5,207.7 L523.3,207.1 L521.9,206.6 L520.5,206.1 L519.1,205.6 L517.7,205.2 L516.3,204.9 L514.9,204.6 L513.5,204.4 L512.1,204.2 L510.7,204.1 L509.2,204.0 L507.8,203.9 L506.3,203.9 L504.8,203.9 L503.4,203.9 L502.0,203.9 L500.6,204.0 L499.1,204.1 L497.7,204.2 L496.3,204.4 L494.8,204.5 L493.4,204.7 L491.9,204.9 L490.5,205.1 L489.0,205.3 L487.6,205.6 L486.1,205.8 L484.7,206.1 L483.3,206.4 L482.0,206.6 L480.6,206.9 L479.2,207.2 L477.8,207.5 L476.4,207.9 L475.0,208.2 L473.6,208.5 L472.3,208.9 L470.9,209.2 L469.5,209.6 L468.1,209.9 L466.8,210.3 L465.3,210.7 L463.9,211.1 L462.5,211.5 L461.1,211.9 L459.7,212.3 L458.3,212.7 L456.9,213.1 L455.5,213.5 L454.1,214.0 L452.7,214.4 L451.4,214.8 L450.0,215.3 L448.6,215.7 L447.3,216.1 L445.9,216.6 L444.6,217.0 L443.2,217.5 L441.8,217.9 L440.4,218.4 L439.0,218.9 L437.7,219.3 L436.3,219.8 L434.9,220.3 L433.6,220.7 L432.2,221.2 L430.9,221.7 L429.5,222.2 L428.2,222.6 L426.8,223.1 L425.4,223.6 L424.0,224.1 L422.7,224.6 L421.3,225.1 L420.0,225.6 L418.7,226.1 L417.3,226.6 L415.9,227.1 L414.6,227.6 L413.2,228.1 L411.9,228.6 L410.5,229.1 L409.2,229.6 L407.9,230.1 L406.5,230.6 L405.2,231.2 L403.8,231.7 L402.5,232.2 L401.1,232.7 L399.8,233.2 L398.5,233.7 L397.1,234.3 L395.8,234.8 L394.4,235.3 L393.1,235.9 L391.7,236.4 L390.4,236.9 L389.1,237.4 L387.7,238.0 L386.4,238.5 L385.1,239.0 L383.7,239.6 L382.4,240.1 L381.1,240.6 L379.8,241.2 L378.4,241.7 L377.1,242.3 L375.8,242.8 L374.4,243.3 L373.1,243.9 L371.7,244.4 L370.4,245.0" fill="none" stroke="#8b6cb3" stroke-width="6" stroke-linejoin="round" stroke-dasharray="6.3 8.2"/>
<rect x="169.3" y="85.0" width="818.9000000000001" height="545.0" fill="none" stroke="#3a3535" stroke-width="2"/>
<path d="M230.93,630.0 v-8 M230.93,85.0 v8 M266.98,630.0 v-8 M266.98,85.0 v8 M292.56,630.0 v-8 M292.56,85.0 v8 M312.40,630.0 v-8 M312.40,85.0 v8 M328.61,630.0 v-8 M328.61,85.0 v8 M342.31,630.0 v-8 M342.31,85.0 v8 M354.19,630.0 v-8 M354.19,85.0 v8 M364.66,630.0 v-8 M364.66,85.0 v8 M435.65,630.0 v-8 M435.65,85.0 v8 M471.70,630.0 v-8 M471.70,85.0 v8 M497.28,630.0 v-8 M497.28,85.0 v8 M517.12,630.0 v-8 M517.12,85.0 v8 M533.33,630.0 v-8 M533.33,85.0 v8 M547.04,630.0 v-8 M547.04,85.0 v8 M558.91,630.0 v-8 M558.91,85.0 v8 M569.38,630.0 v-8 M569.38,85.0 v8 M640.38,630.0 v-8 M640.38,85.0 v8 M676.43,630.0 v-8 M676.43,85.0 v8 M702.01,630.0 v-8 M702.01,85.0 v8 M721.85,630.0 v-8 M721.85,85.0 v8 M738.06,630.0 v-8 M738.06,85.0 v8 M751.76,630.0 v-8 M751.76,85.0 v8 M763.64,630.0 v-8 M763.64,85.0 v8 M774.11,630.0 v-8 M774.11,85.0 v8 M845.10,630.0 v-8 M845.10,85.0 v8 M881.15,630.0 v-8 M881.15,85.0 v8 M906.73,630.0 v-8 M906.73,85.0 v8 M926.57,630.0 v-8 M926.57,85.0 v8 M942.78,630.0 v-8 M942.78,85.0 v8 M956.49,630.0 v-8 M956.49,85.0 v8 M968.36,630.0 v-8 M968.36,85.0 v8 M978.83,630.0 v-8 M978.83,85.0 v8 M374.03,630.0 v-16 M374.03,85.0 v16 M578.75,630.0 v-16 M578.75,85.0 v16 M783.48,630.0 v-16 M783.48,85.0 v16 M169.3,569.44 h17 M988.2,569.44 h-17 M169.3,508.89 h17 M988.2,508.89 h-17 M169.3,448.33 h17 M988.2,448.33 h-17 M169.3,387.78 h17 M988.2,387.78 h-17 M169.3,327.22 h17 M988.2,327.22 h-17 M169.3,266.67 h17 M988.2,266.67 h-17 M169.3,206.11 h17 M988.2,206.11 h-17 M169.3,145.56 h17 M988.2,145.56 h-17" stroke="#3a3535" stroke-width="2" fill="none"/>
<text x="103" y="647.50" font-family="Liberation Serif" font-weight="bold" font-size="30.5" fill="#231815">10<tspan dy="-21.6" dx="0.3" font-size="21.5">10</tspan></text>
<text x="103" y="586.94" font-family="Liberation Serif" font-weight="bold" font-size="30.5" fill="#231815">10<tspan dy="-21.6" dx="0.3" font-size="21.5">11</tspan></text>
<text x="103" y="526.39" font-family="Liberation Serif" font-weight="bold" font-size="30.5" fill="#231815">10<tspan dy="-21.6" dx="0.3" font-size="21.5">12</tspan></text>
<text x="103" y="465.83" font-family="Liberation Serif" font-weight="bold" font-size="30.5" fill="#231815">10<tspan dy="-21.6" dx="0.3" font-size="21.5">13</tspan></text>
<text x="103" y="405.28" font-family="Liberation Serif" font-weight="bold" font-size="30.5" fill="#231815">10<tspan dy="-21.6" dx="0.3" font-size="21.5">14</tspan></text>
<text x="103" y="344.72" font-family="Liberation Serif" font-weight="bold" font-size="30.5" fill="#231815">10<tspan dy="-21.6" dx="0.3" font-size="21.5">15</tspan></text>
<text x="103" y="284.17" font-family="Liberation Serif" font-weight="bold" font-size="30.5" fill="#231815">10<tspan dy="-21.6" dx="0.3" font-size="21.5">16</tspan></text>
<text x="103" y="223.61" font-family="Liberation Serif" font-weight="bold" font-size="30.5" fill="#231815">10<tspan dy="-21.6" dx="0.3" font-size="21.5">17</tspan></text>
<text x="103" y="163.06" font-family="Liberation Serif" font-weight="bold" font-size="30.5" fill="#231815">10<tspan dy="-21.6" dx="0.3" font-size="21.5">18</tspan></text>
<text x="103" y="102.50" font-family="Liberation Serif" font-weight="bold" font-size="30.5" fill="#231815">10<tspan dy="-21.6" dx="0.3" font-size="21.5">19</tspan></text>
<text x="169.30" y="685" text-anchor="middle" font-family="Liberation Serif" font-weight="bold" font-size="30.5" fill="#231815">10<tspan dy="-21.3" font-size="21.5">0</tspan></text>
<text x="374.03" y="685" text-anchor="middle" font-family="Liberation Serif" font-weight="bold" font-size="30.5" fill="#231815">10<tspan dy="-21.3" font-size="21.5">1</tspan></text>
<text x="578.75" y="685" text-anchor="middle" font-family="Liberation Serif" font-weight="bold" font-size="30.5" fill="#231815">10<tspan dy="-21.3" font-size="21.5">2</tspan></text>
<text x="783.48" y="685" text-anchor="middle" font-family="Liberation Serif" font-weight="bold" font-size="30.5" fill="#231815">10<tspan dy="-21.3" font-size="21.5">3</tspan></text>
<text x="988.20" y="685" text-anchor="middle" font-family="Liberation Serif" font-weight="bold" font-size="30.5" fill="#231815">10<tspan dy="-21.3" font-size="21.5">4</tspan></text>
<text transform="translate(50.4,621.5) rotate(-90)" x="0" y="0" font-family="Liberation Serif" font-weight="bold" font-size="30.85" fill="#231815">Brilliance (ph/sec/mm<tspan dy="-21" font-size="21.5">2</tspan><tspan dy="21">/mrad</tspan><tspan dy="-21" font-size="21.5">2</tspan><tspan dy="21">/0.1%b.w.)</tspan></text>
<text x="809.88" y="128.20" font-family="Liberation Serif" font-weight="bold" font-size="30.4" fill="#231815">UVSOR-III</text>
<text x="810.5" y="163" font-family="Liberation Serif" font-style="italic" font-weight="bold" font-size="30.5" fill="#231815" transform="translate(810.5,0) scale(0.84,1) translate(-810.5,0)">I</text>
<text x="821.5" y="170.3" font-family="Liberation Serif" font-weight="bold" font-size="21.5" fill="#231815">b</text>
<text x="839.8" y="163.2" font-family="Liberation Serif" font-weight="bold" font-size="30.5" fill="#231815" transform="translate(839.8,0) scale(1.1,1) translate(-839.8,0)">=</text>
<text x="865.2" y="163.2" font-family="Liberation Serif" font-weight="bold" font-size="30.5" fill="#231815">300</text>
<text x="921.2" y="163.2" font-family="Liberation Serif" font-weight="bold" font-size="30.5" fill="#231815" transform="translate(921.2,0) scale(0.87,1) translate(-921.2,0)">m</text>
<text x="945.5" y="163.2" font-family="Liberation Serif" font-weight="bold" font-size="30.5" fill="#231815" transform="translate(945.5,0) scale(0.85,1) translate(-945.5,0)">A</text>
<text x="299.72" y="513.90" font-family="Liberation Serif" font-weight="bold" font-size="30.4" fill="#231815">Bending Magnet</text>
<text x="334.80" y="170.30" font-family="Liberation Serif" font-weight="bold" font-size="30.4" fill="#f4b035">U5 Horizontal</text>
<text x="218.15" y="223.60" font-family="Liberation Serif" font-weight="bold" font-size="30.4" fill="#41ace3">U7 Horizontal</text>
<text x="618.83" y="167.30" font-family="Liberation Serif" font-weight="bold" font-size="30.4" fill="#e5202a">U3</text>
<text x="729.12" y="245.20" font-family="Liberation Serif" font-weight="bold" font-size="30.4" fill="#2243a4">U4</text>
<text x="751.67" y="319.40" font-family="Liberation Serif" font-weight="bold" font-size="30.4" fill="#5fb236">U6</text>
<text x="385.33" y="311.80" font-family="Liberation Serif" font-weight="bold" font-size="30.4" fill="#8b6cb3">U7 Vertical</text>
<text x="443.95" y="398.60" font-family="Liberation Serif" font-weight="bold" font-size="30.4" fill="#ec7579">U5 Helical</text>
<text x="453.10" y="727.60" font-family="Liberation Serif" font-weight="bold" font-size="30.4" fill="#231815">Photon energy (eV)</text>
</svg>
</body></html>
